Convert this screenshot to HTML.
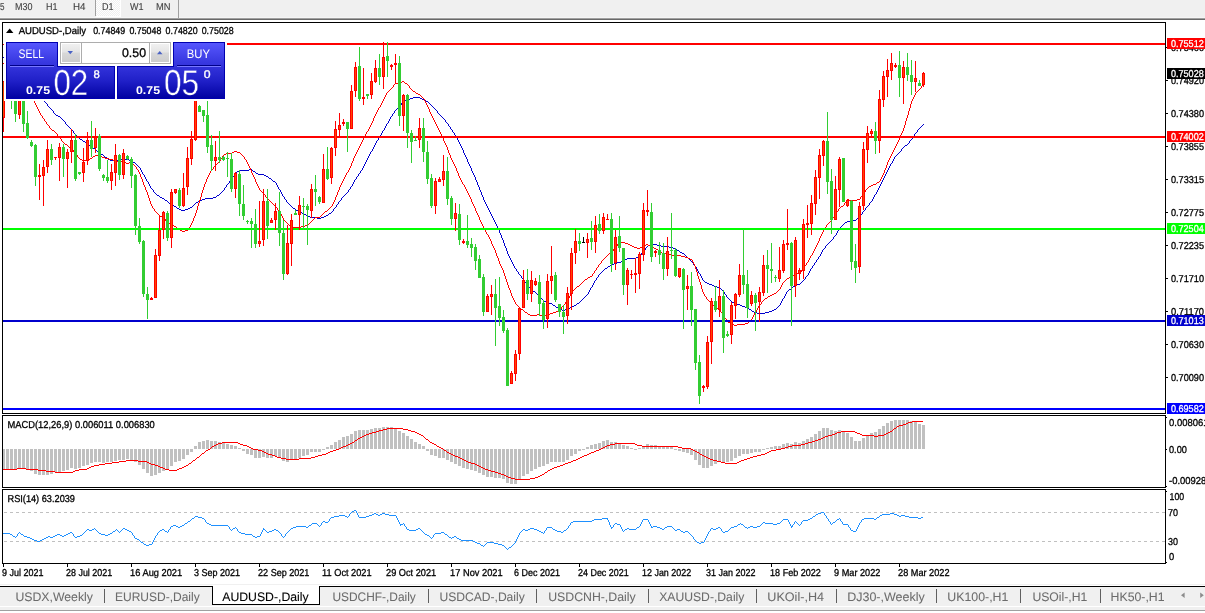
<!DOCTYPE html>
<html lang="en"><head><meta charset="utf-8"><title>AUDUSD-,Daily</title>
<style>
html,body{margin:0;padding:0;background:#fff;}
body{width:1205px;height:613px;overflow:hidden;position:relative;}
svg{position:absolute;left:0;top:0;display:block;font-family:"Liberation Sans",sans-serif;text-rendering:geometricPrecision;}
</style></head><body>
<svg width="1205" height="613" viewBox="0 0 1205 613">
<rect x="0" y="0" width="1205" height="613" fill="#fff"/>
<defs><pattern id="chk" x="0" y="0" width="2" height="2" patternUnits="userSpaceOnUse"><rect x="0" y="0" width="2" height="2" fill="#f0f0f0"/><rect x="0" y="0" width="1" height="1" fill="#fff"/><rect x="1" y="1" width="1" height="1" fill="#fff"/></pattern></defs>
<g shape-rendering="crispEdges">
<rect x="0" y="0" width="1205" height="17" fill="#f0f0f0"/>
<rect x="0" y="17" width="1205" height="1" fill="#f5f5f5"/>
<rect x="0" y="18" width="1205" height="1" fill="#a0a0a0"/>
<rect x="0" y="19" width="1205" height="1" fill="#696969"/>
<rect x="96" y="0" width="24" height="16" fill="url(#chk)"/>
<rect x="120" y="0" width="1" height="17" fill="#ffffff"/>
<rect x="96" y="16" width="25" height="1" fill="#ffffff"/>
<rect x="95" y="0" width="1" height="16" fill="#a0a0a0"/>
<rect x="178" y="0" width="1" height="18" fill="#a0a0a0"/>
</g>
<text x="0" y="10" font-size="10" fill="#404040" textLength="4.5" lengthAdjust="spacingAndGlyphs" stroke="#404040" stroke-width="0.1">5</text>
<text x="15" y="10" font-size="10" fill="#404040" textLength="17.5" lengthAdjust="spacingAndGlyphs" stroke="#404040" stroke-width="0.1">M30</text>
<text x="46" y="10" font-size="10" fill="#404040" textLength="11.5" lengthAdjust="spacingAndGlyphs" stroke="#404040" stroke-width="0.1">H1</text>
<text x="73" y="10" font-size="10" fill="#404040" textLength="12.5" lengthAdjust="spacingAndGlyphs" stroke="#404040" stroke-width="0.1">H4</text>
<text x="102" y="10" font-size="10" fill="#404040" textLength="11.5" lengthAdjust="spacingAndGlyphs" stroke="#404040" stroke-width="0.1">D1</text>
<text x="130" y="10" font-size="10" fill="#404040" textLength="13.5" lengthAdjust="spacingAndGlyphs" stroke="#404040" stroke-width="0.1">W1</text>
<text x="156" y="10" font-size="10" fill="#404040" textLength="14.5" lengthAdjust="spacingAndGlyphs" stroke="#404040" stroke-width="0.1">MN</text>
<g shape-rendering="crispEdges" fill="none" stroke="#000" stroke-width="1">
<rect x="2.5" y="22.5" width="1163" height="391"/>
<rect x="2.5" y="415.5" width="1163" height="72"/>
<rect x="2.5" y="489.5" width="1163" height="74"/>
</g>
<clipPath id="cm"><rect x="3" y="23" width="1162" height="390"/></clipPath>
<path clip-path="url(#cm)" d="M3 57.5h4M7 58.5h1M8 59.5h1M9 60.5h1M10 61.5h1M11 62.5h1M12 63.5h1M13 64.5h2M15 65.5h1M16 66.5h1M17 67.5h1M18 68.5h1M19 69.5h1M20 70.5h1M21 71.5h1M22 72.5h1M22 73.5h1M23 74.5h1M24 75.5h1M25 76.5h1M25 77.5h1M26 78.5h1M27 79.5h1M28 80.5h1M29 81.5h1M29 82.5h1M30 83.5h1M31 84.5h1M32 85.5h1M32 86.5h1M33 87.5h1M34 88.5h1M35 89.5h1M35 90.5h1M36 91.5h1M37 92.5h1M38 93.5h1M39 94.5h1M39 95.5h1M40 96.5h1M41 97.5h1M413 97.5h7M42 98.5h1M410 98.5h3M420 98.5h2M42 99.5h1M408 99.5h2M422 99.5h2M43 100.5h1M405 100.5h3M424 100.5h2M44 101.5h1M403 101.5h2M426 101.5h2M45 102.5h1M402 102.5h1M428 102.5h1M46 103.5h1M401 103.5h1M429 103.5h1M47 104.5h1M401 104.5h1M430 104.5h1M47 105.5h1M400 105.5h1M431 105.5h1M48 106.5h1M399 106.5h1M432 106.5h1M49 107.5h1M398 107.5h1M433 107.5h1M50 108.5h1M397 108.5h1M434 108.5h1M51 109.5h1M396 109.5h1M435 109.5h1M52 110.5h1M395 110.5h1M436 110.5h1M53 111.5h1M394 111.5h1M437 111.5h1M53 112.5h1M394 112.5h1M437 112.5h1M54 113.5h1M393 113.5h1M438 113.5h1M55 114.5h1M392 114.5h1M439 114.5h1M56 115.5h2M392 115.5h1M440 115.5h1M58 116.5h2M391 116.5h1M441 116.5h1M60 117.5h1M390 117.5h1M442 117.5h1M61 118.5h1M390 118.5h1M443 118.5h1M62 119.5h1M389 119.5h1M444 119.5h1M63 120.5h1M389 120.5h1M445 120.5h1M64 121.5h1M388 121.5h1M445 121.5h1M65 122.5h1M388 122.5h1M446 122.5h1M65 123.5h1M387 123.5h1M447 123.5h1M66 124.5h1M386 124.5h1M448 124.5h1M923 124.5h1M67 125.5h1M386 125.5h1M448 125.5h1M922 125.5h1M68 126.5h1M385 126.5h1M449 126.5h1M921 126.5h1M69 127.5h1M385 127.5h1M450 127.5h1M920 127.5h1M70 128.5h1M384 128.5h1M450 128.5h1M919 128.5h1M71 129.5h1M384 129.5h1M451 129.5h1M918 129.5h1M72 130.5h1M383 130.5h1M452 130.5h1M917 130.5h1M73 131.5h1M382 131.5h1M452 131.5h1M917 131.5h1M73 132.5h1M382 132.5h1M453 132.5h1M916 132.5h1M74 133.5h1M381 133.5h1M454 133.5h1M915 133.5h1M75 134.5h1M381 134.5h1M454 134.5h1M914 134.5h1M76 135.5h1M380 135.5h1M455 135.5h1M914 135.5h1M77 136.5h1M380 136.5h1M456 136.5h1M913 136.5h1M78 137.5h1M379 137.5h1M456 137.5h1M912 137.5h1M79 138.5h1M378 138.5h1M457 138.5h1M912 138.5h1M80 139.5h2M378 139.5h1M457 139.5h1M911 139.5h1M82 140.5h1M377 140.5h1M458 140.5h1M910 140.5h1M83 141.5h2M376 141.5h1M458 141.5h1M909 141.5h1M85 142.5h1M376 142.5h1M459 142.5h1M909 142.5h1M86 143.5h1M375 143.5h1M459 143.5h1M908 143.5h1M87 144.5h2M375 144.5h1M460 144.5h1M907 144.5h1M89 145.5h1M374 145.5h1M460 145.5h1M905 145.5h2M90 146.5h1M374 146.5h1M461 146.5h1M904 146.5h1M91 147.5h2M373 147.5h1M461 147.5h1M903 147.5h1M93 148.5h2M373 148.5h1M462 148.5h1M902 148.5h1M95 149.5h1M372 149.5h1M462 149.5h1M901 149.5h1M96 150.5h1M372 150.5h1M463 150.5h1M901 150.5h1M97 151.5h2M371 151.5h1M463 151.5h1M900 151.5h1M99 152.5h1M370 152.5h1M463 152.5h1M899 152.5h1M100 153.5h1M370 153.5h1M464 153.5h1M898 153.5h1M101 154.5h2M369 154.5h1M464 154.5h1M897 154.5h1M103 155.5h1M369 155.5h1M465 155.5h1M896 155.5h1M104 156.5h1M368 156.5h1M465 156.5h1M895 156.5h1M105 157.5h2M368 157.5h1M466 157.5h1M894 157.5h1M107 158.5h1M367 158.5h1M466 158.5h1M894 158.5h1M108 159.5h2M121 159.5h8M367 159.5h1M467 159.5h1M893 159.5h1M110 160.5h11M129 160.5h3M366 160.5h1M467 160.5h1M893 160.5h1M132 161.5h1M366 161.5h1M467 161.5h1M892 161.5h1M133 162.5h2M365 162.5h1M468 162.5h1M892 162.5h1M135 163.5h1M365 163.5h1M468 163.5h1M891 163.5h1M136 164.5h1M364 164.5h1M469 164.5h1M890 164.5h1M137 165.5h1M364 165.5h1M469 165.5h1M890 165.5h1M138 166.5h1M363 166.5h1M470 166.5h1M889 166.5h1M139 167.5h1M363 167.5h1M470 167.5h1M889 167.5h1M140 168.5h1M362 168.5h1M471 168.5h1M888 168.5h1M140 169.5h1M249 169.5h3M362 169.5h1M471 169.5h1M888 169.5h1M141 170.5h1M239 170.5h10M252 170.5h1M361 170.5h1M471 170.5h1M887 170.5h1M141 171.5h1M237 171.5h2M253 171.5h2M360 171.5h1M472 171.5h1M887 171.5h1M142 172.5h1M236 172.5h1M255 172.5h1M360 172.5h1M472 172.5h1M886 172.5h1M142 173.5h1M235 173.5h1M256 173.5h2M359 173.5h1M473 173.5h1M886 173.5h1M143 174.5h1M234 174.5h1M258 174.5h6M358 174.5h1M473 174.5h1M885 174.5h1M144 175.5h1M234 175.5h1M264 175.5h2M358 175.5h1M474 175.5h1M885 175.5h1M144 176.5h1M233 176.5h1M266 176.5h2M357 176.5h1M474 176.5h1M884 176.5h1M145 177.5h1M232 177.5h1M268 177.5h1M356 177.5h1M475 177.5h1M884 177.5h1M145 178.5h1M232 178.5h1M269 178.5h2M356 178.5h1M475 178.5h1M883 178.5h1M146 179.5h1M231 179.5h1M271 179.5h1M355 179.5h1M475 179.5h1M883 179.5h1M146 180.5h1M230 180.5h1M272 180.5h1M354 180.5h1M476 180.5h1M882 180.5h1M147 181.5h1M229 181.5h1M273 181.5h2M354 181.5h1M476 181.5h1M882 181.5h1M148 182.5h1M229 182.5h1M275 182.5h1M353 182.5h1M477 182.5h1M881 182.5h1M148 183.5h1M228 183.5h1M276 183.5h1M353 183.5h1M477 183.5h1M881 183.5h1M149 184.5h1M227 184.5h1M276 184.5h1M352 184.5h1M477 184.5h1M880 184.5h1M149 185.5h1M226 185.5h1M277 185.5h1M352 185.5h1M478 185.5h1M880 185.5h1M150 186.5h1M226 186.5h1M277 186.5h1M351 186.5h1M478 186.5h1M879 186.5h1M150 187.5h1M225 187.5h1M278 187.5h1M350 187.5h1M479 187.5h1M879 187.5h1M151 188.5h1M224 188.5h1M278 188.5h1M350 188.5h1M479 188.5h1M878 188.5h1M152 189.5h1M224 189.5h1M279 189.5h1M349 189.5h1M479 189.5h1M878 189.5h1M153 190.5h1M223 190.5h1M280 190.5h1M348 190.5h1M480 190.5h1M877 190.5h1M153 191.5h1M222 191.5h1M280 191.5h1M348 191.5h1M480 191.5h1M877 191.5h1M154 192.5h1M221 192.5h1M281 192.5h1M347 192.5h1M481 192.5h1M876 192.5h1M155 193.5h1M220 193.5h1M281 193.5h1M346 193.5h1M481 193.5h1M876 193.5h1M156 194.5h1M219 194.5h1M282 194.5h1M345 194.5h1M481 194.5h1M875 194.5h1M157 195.5h2M217 195.5h2M282 195.5h1M344 195.5h1M482 195.5h1M874 195.5h1M159 196.5h1M216 196.5h1M283 196.5h1M343 196.5h1M482 196.5h1M874 196.5h1M160 197.5h2M213 197.5h3M284 197.5h1M342 197.5h1M483 197.5h1M873 197.5h1M162 198.5h2M205 198.5h8M284 198.5h1M341 198.5h1M483 198.5h1M873 198.5h1M164 199.5h1M202 199.5h3M285 199.5h1M341 199.5h1M483 199.5h1M872 199.5h1M165 200.5h2M200 200.5h2M286 200.5h1M340 200.5h1M484 200.5h1M872 200.5h1M167 201.5h1M198 201.5h2M286 201.5h1M339 201.5h1M484 201.5h1M871 201.5h1M168 202.5h1M196 202.5h2M287 202.5h1M338 202.5h1M485 202.5h1M870 202.5h1M169 203.5h2M195 203.5h1M288 203.5h1M338 203.5h1M485 203.5h1M869 203.5h1M171 204.5h1M194 204.5h1M289 204.5h1M337 204.5h1M486 204.5h1M869 204.5h1M172 205.5h2M193 205.5h1M290 205.5h1M336 205.5h1M486 205.5h1M868 205.5h1M174 206.5h2M192 206.5h1M291 206.5h1M336 206.5h1M487 206.5h1M867 206.5h1M176 207.5h1M190 207.5h2M292 207.5h1M335 207.5h1M487 207.5h1M866 207.5h1M177 208.5h2M188 208.5h2M293 208.5h2M334 208.5h1M488 208.5h1M865 208.5h1M179 209.5h2M185 209.5h3M295 209.5h1M333 209.5h1M488 209.5h1M865 209.5h1M181 210.5h4M296 210.5h2M333 210.5h1M489 210.5h1M864 210.5h1M298 211.5h2M332 211.5h1M489 211.5h1M863 211.5h1M300 212.5h2M331 212.5h1M490 212.5h1M862 212.5h1M302 213.5h2M329 213.5h2M490 213.5h1M862 213.5h1M304 214.5h2M328 214.5h1M491 214.5h1M861 214.5h1M306 215.5h2M326 215.5h2M491 215.5h1M860 215.5h1M308 216.5h2M324 216.5h2M492 216.5h1M860 216.5h1M310 217.5h7M321 217.5h3M492 217.5h1M859 217.5h1M317 218.5h4M493 218.5h1M857 218.5h2M493 219.5h1M856 219.5h1M494 220.5h1M853 220.5h3M494 221.5h1M847 221.5h6M495 222.5h1M845 222.5h2M495 223.5h1M844 223.5h1M496 224.5h1M843 224.5h1M496 225.5h1M842 225.5h1M497 226.5h1M841 226.5h1M497 227.5h1M840 227.5h1M498 228.5h1M839 228.5h1M498 229.5h1M838 229.5h1M499 230.5h1M838 230.5h1M499 231.5h1M837 231.5h1M499 232.5h1M837 232.5h1M500 233.5h1M836 233.5h1M500 234.5h1M836 234.5h1M501 235.5h1M835 235.5h1M501 236.5h1M834 236.5h1M501 237.5h1M833 237.5h1M502 238.5h1M833 238.5h1M502 239.5h1M832 239.5h1M503 240.5h1M831 240.5h1M503 241.5h1M830 241.5h1M503 242.5h1M829 242.5h1M504 243.5h1M828 243.5h1M504 244.5h1M650 244.5h7M827 244.5h1M504 245.5h1M648 245.5h2M657 245.5h4M826 245.5h1M505 246.5h1M647 246.5h1M661 246.5h8M825 246.5h1M505 247.5h1M646 247.5h1M669 247.5h4M825 247.5h1M506 248.5h1M645 248.5h1M673 248.5h3M824 248.5h1M506 249.5h1M645 249.5h1M676 249.5h1M823 249.5h1M506 250.5h1M644 250.5h1M677 250.5h2M822 250.5h1M507 251.5h1M643 251.5h1M679 251.5h1M822 251.5h1M507 252.5h1M642 252.5h1M680 252.5h2M821 252.5h1M507 253.5h1M641 253.5h1M682 253.5h2M821 253.5h1M508 254.5h1M641 254.5h1M684 254.5h1M820 254.5h1M508 255.5h1M640 255.5h1M685 255.5h1M820 255.5h1M509 256.5h1M638 256.5h2M686 256.5h1M819 256.5h1M509 257.5h1M636 257.5h2M687 257.5h1M818 257.5h1M510 258.5h1M627 258.5h9M688 258.5h1M818 258.5h1M510 259.5h1M625 259.5h2M689 259.5h1M817 259.5h1M511 260.5h1M624 260.5h1M690 260.5h1M816 260.5h1M511 261.5h1M621 261.5h3M691 261.5h1M816 261.5h1M512 262.5h1M617 262.5h4M692 262.5h1M815 262.5h1M512 263.5h1M614 263.5h3M693 263.5h1M814 263.5h1M513 264.5h1M612 264.5h2M693 264.5h1M814 264.5h1M513 265.5h1M610 265.5h2M694 265.5h1M813 265.5h1M514 266.5h1M608 266.5h2M695 266.5h1M812 266.5h1M514 267.5h1M607 267.5h1M696 267.5h1M812 267.5h1M515 268.5h1M605 268.5h2M696 268.5h1M811 268.5h1M516 269.5h1M604 269.5h1M697 269.5h1M810 269.5h1M516 270.5h1M603 270.5h1M697 270.5h1M810 270.5h1M517 271.5h1M602 271.5h1M698 271.5h1M809 271.5h1M518 272.5h1M601 272.5h1M698 272.5h1M809 272.5h1M518 273.5h1M600 273.5h1M699 273.5h1M808 273.5h1M519 274.5h1M599 274.5h1M700 274.5h1M808 274.5h1M520 275.5h1M598 275.5h1M700 275.5h1M807 275.5h1M521 276.5h1M598 276.5h1M701 276.5h1M806 276.5h1M521 277.5h1M597 277.5h1M701 277.5h1M805 277.5h1M522 278.5h1M596 278.5h1M702 278.5h1M805 278.5h1M523 279.5h1M596 279.5h1M702 279.5h1M804 279.5h1M524 280.5h1M595 280.5h1M703 280.5h1M803 280.5h1M524 281.5h1M594 281.5h1M704 281.5h1M802 281.5h1M525 282.5h1M594 282.5h1M705 282.5h2M801 282.5h1M526 283.5h1M593 283.5h1M707 283.5h2M800 283.5h1M526 284.5h1M593 284.5h1M709 284.5h3M797 284.5h3M527 285.5h1M592 285.5h1M712 285.5h2M795 285.5h2M528 286.5h1M592 286.5h1M714 286.5h3M793 286.5h2M529 287.5h1M591 287.5h1M717 287.5h3M792 287.5h1M530 288.5h1M590 288.5h1M720 288.5h1M791 288.5h1M531 289.5h1M590 289.5h1M721 289.5h1M789 289.5h2M532 290.5h1M589 290.5h1M722 290.5h1M788 290.5h1M533 291.5h2M589 291.5h1M723 291.5h1M787 291.5h1M535 292.5h1M588 292.5h1M724 292.5h1M786 292.5h1M536 293.5h1M588 293.5h1M724 293.5h1M786 293.5h1M537 294.5h1M587 294.5h1M725 294.5h1M785 294.5h1M538 295.5h1M586 295.5h1M726 295.5h1M785 295.5h1M539 296.5h1M585 296.5h1M726 296.5h1M784 296.5h1M540 297.5h1M584 297.5h1M727 297.5h1M784 297.5h1M541 298.5h1M583 298.5h1M728 298.5h1M783 298.5h1M542 299.5h1M582 299.5h1M729 299.5h1M782 299.5h1M543 300.5h1M581 300.5h1M730 300.5h1M782 300.5h1M544 301.5h2M580 301.5h1M731 301.5h1M781 301.5h1M546 302.5h3M579 302.5h1M732 302.5h2M781 302.5h1M549 303.5h3M577 303.5h2M734 303.5h3M780 303.5h1M552 304.5h1M576 304.5h1M737 304.5h3M780 304.5h1M553 305.5h2M574 305.5h2M740 305.5h2M779 305.5h1M555 306.5h1M572 306.5h2M742 306.5h3M778 306.5h1M556 307.5h2M570 307.5h2M745 307.5h3M777 307.5h1M558 308.5h2M568 308.5h2M748 308.5h1M776 308.5h1M560 309.5h2M565 309.5h3M749 309.5h2M774 309.5h2M562 310.5h3M751 310.5h1M772 310.5h2M752 311.5h2M769 311.5h3M754 312.5h3M765 312.5h4M757 313.5h8" fill="none" stroke="#0000cd" stroke-width="1" shape-rendering="crispEdges"/>
<path clip-path="url(#cm)" d="M3 63.5h4M7 64.5h1M8 65.5h1M8 66.5h1M9 67.5h1M10 68.5h1M11 69.5h1M12 70.5h1M13 71.5h1M13 72.5h1M14 73.5h1M15 74.5h1M16 75.5h1M17 76.5h1M18 77.5h1M18 78.5h1M19 79.5h1M20 80.5h1M21 81.5h1M402 81.5h2M21 82.5h1M400 82.5h2M404 82.5h1M22 83.5h1M395 83.5h5M405 83.5h2M23 84.5h1M394 84.5h1M407 84.5h1M923 84.5h1M23 85.5h1M393 85.5h1M408 85.5h1M922 85.5h1M24 86.5h1M393 86.5h1M409 86.5h1M921 86.5h1M25 87.5h1M392 87.5h1M409 87.5h1M921 87.5h1M25 88.5h1M391 88.5h1M410 88.5h1M920 88.5h1M26 89.5h1M390 89.5h1M411 89.5h1M919 89.5h1M27 90.5h1M389 90.5h1M412 90.5h1M918 90.5h1M27 91.5h1M388 91.5h1M413 91.5h2M917 91.5h1M28 92.5h1M387 92.5h1M415 92.5h1M916 92.5h1M29 93.5h1M386 93.5h1M416 93.5h2M915 93.5h1M29 94.5h1M386 94.5h1M418 94.5h2M915 94.5h1M30 95.5h1M385 95.5h1M420 95.5h1M914 95.5h1M31 96.5h1M385 96.5h1M421 96.5h1M914 96.5h1M31 97.5h1M384 97.5h1M422 97.5h1M913 97.5h1M32 98.5h1M384 98.5h1M423 98.5h1M913 98.5h1M33 99.5h1M383 99.5h1M424 99.5h1M912 99.5h1M33 100.5h1M383 100.5h1M424 100.5h1M912 100.5h1M34 101.5h1M382 101.5h1M425 101.5h1M911 101.5h1M34 102.5h1M382 102.5h1M425 102.5h1M911 102.5h1M35 103.5h1M381 103.5h1M426 103.5h1M911 103.5h1M35 104.5h1M381 104.5h1M426 104.5h1M910 104.5h1M36 105.5h1M380 105.5h1M427 105.5h1M910 105.5h1M36 106.5h1M380 106.5h1M427 106.5h1M910 106.5h1M37 107.5h1M379 107.5h1M428 107.5h1M910 107.5h1M37 108.5h1M378 108.5h1M428 108.5h1M909 108.5h1M38 109.5h1M378 109.5h1M429 109.5h1M909 109.5h1M38 110.5h1M377 110.5h1M429 110.5h1M909 110.5h1M39 111.5h1M377 111.5h1M429 111.5h1M908 111.5h1M39 112.5h1M376 112.5h1M430 112.5h1M908 112.5h1M40 113.5h1M376 113.5h1M430 113.5h1M908 113.5h1M40 114.5h1M375 114.5h1M431 114.5h1M908 114.5h1M41 115.5h1M375 115.5h1M431 115.5h1M907 115.5h1M42 116.5h1M374 116.5h1M432 116.5h1M907 116.5h1M42 117.5h1M374 117.5h1M432 117.5h1M907 117.5h1M43 118.5h1M373 118.5h1M433 118.5h1M906 118.5h1M44 119.5h1M373 119.5h1M433 119.5h1M906 119.5h1M44 120.5h1M373 120.5h1M434 120.5h1M906 120.5h1M45 121.5h1M372 121.5h1M434 121.5h1M905 121.5h1M46 122.5h1M372 122.5h1M435 122.5h1M905 122.5h1M46 123.5h1M371 123.5h1M435 123.5h1M905 123.5h1M47 124.5h1M371 124.5h1M436 124.5h1M905 124.5h1M48 125.5h1M370 125.5h1M436 125.5h1M904 125.5h1M49 126.5h1M370 126.5h1M437 126.5h1M904 126.5h1M49 127.5h1M369 127.5h1M437 127.5h1M904 127.5h1M50 128.5h1M369 128.5h1M438 128.5h1M903 128.5h1M51 129.5h1M368 129.5h1M438 129.5h1M903 129.5h1M52 130.5h2M368 130.5h1M439 130.5h1M903 130.5h1M54 131.5h1M367 131.5h1M439 131.5h1M902 131.5h1M55 132.5h1M366 132.5h1M440 132.5h1M902 132.5h1M56 133.5h1M366 133.5h1M440 133.5h1M901 133.5h1M57 134.5h1M365 134.5h1M441 134.5h1M901 134.5h1M57 135.5h1M365 135.5h1M441 135.5h1M900 135.5h1M58 136.5h1M364 136.5h1M442 136.5h1M900 136.5h1M59 137.5h1M364 137.5h1M442 137.5h1M899 137.5h1M60 138.5h1M363 138.5h1M443 138.5h1M899 138.5h1M61 139.5h1M363 139.5h1M443 139.5h1M899 139.5h1M61 140.5h1M362 140.5h1M443 140.5h1M898 140.5h1M62 141.5h1M362 141.5h1M444 141.5h1M898 141.5h1M63 142.5h1M361 142.5h1M444 142.5h1M897 142.5h1M64 143.5h1M361 143.5h1M445 143.5h1M897 143.5h1M65 144.5h2M360 144.5h1M445 144.5h1M896 144.5h1M67 145.5h1M360 145.5h1M446 145.5h1M896 145.5h1M68 146.5h1M359 146.5h1M446 146.5h1M895 146.5h1M69 147.5h2M359 147.5h1M447 147.5h1M895 147.5h1M71 148.5h1M358 148.5h1M447 148.5h1M894 148.5h1M72 149.5h1M358 149.5h1M447 149.5h1M894 149.5h1M73 150.5h1M357 150.5h1M448 150.5h1M893 150.5h1M73 151.5h1M234 151.5h3M357 151.5h1M448 151.5h1M893 151.5h1M74 152.5h1M232 152.5h2M237 152.5h3M356 152.5h1M448 152.5h1M892 152.5h1M75 153.5h1M226 153.5h6M240 153.5h1M356 153.5h1M449 153.5h1M892 153.5h1M76 154.5h1M224 154.5h2M241 154.5h1M355 154.5h1M449 154.5h1M891 154.5h1M77 155.5h1M95 155.5h5M223 155.5h1M242 155.5h1M355 155.5h1M450 155.5h1M891 155.5h1M77 156.5h1M93 156.5h2M100 156.5h2M222 156.5h1M243 156.5h1M354 156.5h1M450 156.5h1M890 156.5h1M78 157.5h1M92 157.5h1M102 157.5h3M222 157.5h1M244 157.5h1M354 157.5h1M450 157.5h1M890 157.5h1M79 158.5h1M90 158.5h2M105 158.5h4M221 158.5h1M244 158.5h1M353 158.5h1M451 158.5h1M889 158.5h1M80 159.5h2M88 159.5h2M109 159.5h4M220 159.5h1M245 159.5h1M353 159.5h1M451 159.5h1M889 159.5h1M82 160.5h6M113 160.5h4M220 160.5h1M246 160.5h1M353 160.5h1M452 160.5h1M888 160.5h1M117 161.5h7M219 161.5h1M246 161.5h1M352 161.5h1M452 161.5h1M888 161.5h1M124 162.5h2M129 162.5h3M218 162.5h1M247 162.5h1M352 162.5h1M453 162.5h1M887 162.5h1M126 163.5h3M132 163.5h1M217 163.5h1M247 163.5h1M351 163.5h1M453 163.5h1M887 163.5h1M133 164.5h1M216 164.5h1M248 164.5h1M351 164.5h1M454 164.5h1M887 164.5h1M134 165.5h1M215 165.5h1M248 165.5h1M351 165.5h1M454 165.5h1M886 165.5h1M135 166.5h1M214 166.5h1M249 166.5h1M350 166.5h1M455 166.5h1M886 166.5h1M136 167.5h1M213 167.5h1M249 167.5h1M350 167.5h1M455 167.5h1M886 167.5h1M136 168.5h1M213 168.5h1M250 168.5h1M349 168.5h1M456 168.5h1M885 168.5h1M137 169.5h1M212 169.5h1M250 169.5h1M349 169.5h1M456 169.5h1M885 169.5h1M138 170.5h1M211 170.5h1M251 170.5h1M348 170.5h1M456 170.5h1M884 170.5h1M138 171.5h1M210 171.5h1M251 171.5h1M348 171.5h1M457 171.5h1M884 171.5h1M139 172.5h1M210 172.5h1M251 172.5h1M347 172.5h1M457 172.5h1M884 172.5h1M139 173.5h1M209 173.5h1M252 173.5h1M346 173.5h1M458 173.5h1M883 173.5h1M140 174.5h1M209 174.5h1M252 174.5h1M346 174.5h1M458 174.5h1M883 174.5h1M140 175.5h1M208 175.5h1M253 175.5h1M345 175.5h1M458 175.5h1M882 175.5h1M140 176.5h1M208 176.5h1M253 176.5h1M345 176.5h1M459 176.5h1M882 176.5h1M141 177.5h1M207 177.5h1M254 177.5h1M344 177.5h1M459 177.5h1M881 177.5h1M141 178.5h1M207 178.5h1M254 178.5h1M344 178.5h1M460 178.5h1M881 178.5h1M142 179.5h1M206 179.5h1M255 179.5h1M343 179.5h1M460 179.5h1M880 179.5h1M142 180.5h1M206 180.5h1M255 180.5h1M343 180.5h1M461 180.5h1M880 180.5h1M142 181.5h1M206 181.5h1M255 181.5h1M342 181.5h1M461 181.5h1M879 181.5h1M143 182.5h1M205 182.5h1M256 182.5h1M342 182.5h1M462 182.5h1M877 182.5h2M143 183.5h1M205 183.5h1M256 183.5h1M341 183.5h1M462 183.5h1M876 183.5h1M143 184.5h1M204 184.5h1M257 184.5h1M341 184.5h1M463 184.5h1M873 184.5h3M144 185.5h1M204 185.5h1M257 185.5h1M340 185.5h1M464 185.5h1M871 185.5h2M144 186.5h1M204 186.5h1M258 186.5h1M340 186.5h1M464 186.5h1M869 186.5h2M145 187.5h1M203 187.5h1M258 187.5h1M339 187.5h1M465 187.5h1M868 187.5h1M145 188.5h1M203 188.5h1M259 188.5h1M339 188.5h1M465 188.5h1M867 188.5h1M145 189.5h1M203 189.5h1M259 189.5h1M339 189.5h1M466 189.5h1M866 189.5h1M146 190.5h1M202 190.5h1M260 190.5h1M338 190.5h1M466 190.5h1M865 190.5h1M146 191.5h1M202 191.5h1M261 191.5h1M338 191.5h1M467 191.5h1M865 191.5h1M147 192.5h1M202 192.5h1M262 192.5h1M337 192.5h1M467 192.5h1M864 192.5h1M147 193.5h1M201 193.5h1M263 193.5h1M337 193.5h1M468 193.5h1M863 193.5h1M147 194.5h1M201 194.5h1M264 194.5h1M337 194.5h1M468 194.5h1M862 194.5h1M148 195.5h1M201 195.5h1M265 195.5h1M336 195.5h1M469 195.5h1M862 195.5h1M148 196.5h1M201 196.5h1M265 196.5h1M336 196.5h1M469 196.5h1M861 196.5h1M148 197.5h1M200 197.5h1M266 197.5h1M335 197.5h1M470 197.5h1M860 197.5h1M149 198.5h1M200 198.5h1M267 198.5h1M335 198.5h1M470 198.5h1M860 198.5h1M149 199.5h1M200 199.5h1M268 199.5h1M335 199.5h1M471 199.5h1M847 199.5h2M857 199.5h3M149 200.5h1M199 200.5h1M269 200.5h1M334 200.5h1M471 200.5h1M846 200.5h1M849 200.5h8M150 201.5h1M199 201.5h1M270 201.5h1M334 201.5h1M471 201.5h1M846 201.5h1M150 202.5h1M199 202.5h1M271 202.5h1M333 202.5h1M472 202.5h1M845 202.5h1M150 203.5h1M198 203.5h1M272 203.5h1M333 203.5h1M472 203.5h1M844 203.5h1M151 204.5h1M198 204.5h1M273 204.5h1M332 204.5h1M473 204.5h1M844 204.5h1M151 205.5h1M198 205.5h1M274 205.5h1M332 205.5h1M473 205.5h1M843 205.5h1M152 206.5h1M197 206.5h1M275 206.5h1M331 206.5h1M474 206.5h1M841 206.5h2M152 207.5h1M197 207.5h1M276 207.5h1M330 207.5h1M474 207.5h1M840 207.5h1M153 208.5h1M197 208.5h1M277 208.5h1M329 208.5h1M475 208.5h1M839 208.5h1M154 209.5h1M197 209.5h1M277 209.5h1M328 209.5h1M475 209.5h1M838 209.5h1M154 210.5h1M196 210.5h1M278 210.5h1M327 210.5h1M475 210.5h1M838 210.5h1M155 211.5h1M196 211.5h1M279 211.5h1M325 211.5h2M476 211.5h1M837 211.5h1M156 212.5h1M196 212.5h1M280 212.5h1M324 212.5h1M476 212.5h1M836 212.5h1M157 213.5h1M195 213.5h1M280 213.5h1M323 213.5h1M477 213.5h1M836 213.5h1M158 214.5h1M195 214.5h1M281 214.5h1M322 214.5h1M477 214.5h1M835 214.5h1M159 215.5h1M195 215.5h1M281 215.5h1M321 215.5h1M478 215.5h1M834 215.5h1M160 216.5h2M194 216.5h1M282 216.5h1M320 216.5h1M478 216.5h1M834 216.5h1M162 217.5h2M194 217.5h1M282 217.5h1M315 217.5h5M479 217.5h1M833 217.5h1M164 218.5h1M193 218.5h1M283 218.5h1M314 218.5h1M479 218.5h1M832 218.5h1M165 219.5h1M193 219.5h1M283 219.5h1M313 219.5h1M479 219.5h1M832 219.5h1M165 220.5h1M193 220.5h1M284 220.5h1M312 220.5h1M480 220.5h1M831 220.5h1M166 221.5h1M192 221.5h1M285 221.5h1M311 221.5h1M480 221.5h1M830 221.5h1M167 222.5h1M192 222.5h1M286 222.5h1M310 222.5h1M481 222.5h1M829 222.5h1M168 223.5h2M191 223.5h1M287 223.5h1M309 223.5h1M481 223.5h1M828 223.5h1M170 224.5h2M191 224.5h1M288 224.5h1M308 224.5h1M482 224.5h1M827 224.5h1M172 225.5h2M190 225.5h1M289 225.5h1M305 225.5h3M482 225.5h1M826 225.5h1M174 226.5h2M190 226.5h1M290 226.5h1M301 226.5h4M483 226.5h1M826 226.5h1M176 227.5h1M189 227.5h1M291 227.5h10M483 227.5h1M825 227.5h1M177 228.5h2M188 228.5h1M484 228.5h1M824 228.5h1M179 229.5h1M188 229.5h1M484 229.5h1M824 229.5h1M180 230.5h2M185 230.5h3M485 230.5h1M823 230.5h1M182 231.5h3M485 231.5h1M823 231.5h1M486 232.5h1M822 232.5h1M486 233.5h1M822 233.5h1M487 234.5h1M821 234.5h1M488 235.5h1M821 235.5h1M488 236.5h1M820 236.5h1M489 237.5h1M820 237.5h1M489 238.5h1M819 238.5h1M490 239.5h1M819 239.5h1M490 240.5h1M819 240.5h1M491 241.5h1M818 241.5h1M491 242.5h1M619 242.5h6M818 242.5h1M491 243.5h1M618 243.5h1M625 243.5h3M817 243.5h1M492 244.5h1M617 244.5h1M628 244.5h2M646 244.5h2M817 244.5h1M492 245.5h1M617 245.5h1M630 245.5h2M644 245.5h2M648 245.5h2M816 245.5h1M493 246.5h1M616 246.5h1M632 246.5h2M642 246.5h2M650 246.5h2M816 246.5h1M493 247.5h1M615 247.5h1M634 247.5h3M640 247.5h2M652 247.5h2M815 247.5h1M494 248.5h1M614 248.5h1M637 248.5h3M654 248.5h2M815 248.5h1M494 249.5h1M613 249.5h1M656 249.5h2M814 249.5h1M495 250.5h1M613 250.5h1M658 250.5h2M814 250.5h1M495 251.5h1M612 251.5h1M660 251.5h1M813 251.5h1M495 252.5h1M611 252.5h1M661 252.5h1M813 252.5h1M496 253.5h1M609 253.5h2M662 253.5h1M665 253.5h4M812 253.5h1M496 254.5h1M608 254.5h1M663 254.5h2M669 254.5h3M812 254.5h1M496 255.5h1M607 255.5h1M672 255.5h2M677 255.5h4M811 255.5h1M497 256.5h1M606 256.5h1M674 256.5h3M681 256.5h4M810 256.5h1M497 257.5h1M605 257.5h1M685 257.5h3M810 257.5h1M498 258.5h1M604 258.5h1M688 258.5h2M809 258.5h1M498 259.5h1M603 259.5h1M690 259.5h2M809 259.5h1M498 260.5h1M602 260.5h1M692 260.5h1M808 260.5h1M499 261.5h1M601 261.5h1M692 261.5h1M808 261.5h1M499 262.5h1M601 262.5h1M693 262.5h1M807 262.5h1M499 263.5h1M600 263.5h1M693 263.5h1M806 263.5h1M500 264.5h1M599 264.5h1M694 264.5h1M806 264.5h1M500 265.5h1M598 265.5h1M694 265.5h1M805 265.5h1M501 266.5h1M598 266.5h1M695 266.5h1M804 266.5h1M501 267.5h1M597 267.5h1M695 267.5h1M804 267.5h1M502 268.5h1M596 268.5h1M695 268.5h1M803 268.5h1M502 269.5h1M596 269.5h1M696 269.5h1M802 269.5h1M503 270.5h1M595 270.5h1M696 270.5h1M801 270.5h1M503 271.5h1M594 271.5h1M696 271.5h1M801 271.5h1M503 272.5h1M594 272.5h1M697 272.5h1M800 272.5h1M504 273.5h1M593 273.5h1M697 273.5h1M797 273.5h3M504 274.5h1M592 274.5h1M697 274.5h1M795 274.5h2M504 275.5h1M592 275.5h1M697 275.5h1M793 275.5h2M505 276.5h1M590 276.5h2M698 276.5h1M792 276.5h1M505 277.5h1M588 277.5h2M698 277.5h1M789 277.5h3M505 278.5h1M587 278.5h1M698 278.5h1M787 278.5h2M506 279.5h1M585 279.5h2M699 279.5h1M786 279.5h1M506 280.5h1M584 280.5h1M699 280.5h1M785 280.5h1M506 281.5h1M583 281.5h1M699 281.5h1M784 281.5h1M507 282.5h1M582 282.5h1M700 282.5h1M783 282.5h1M507 283.5h1M581 283.5h1M700 283.5h1M782 283.5h1M507 284.5h1M580 284.5h1M700 284.5h1M782 284.5h1M508 285.5h1M579 285.5h1M701 285.5h1M781 285.5h1M508 286.5h1M577 286.5h2M701 286.5h1M781 286.5h1M508 287.5h1M576 287.5h1M701 287.5h1M780 287.5h1M509 288.5h1M575 288.5h1M701 288.5h1M780 288.5h1M509 289.5h1M574 289.5h1M702 289.5h1M779 289.5h1M510 290.5h1M573 290.5h1M702 290.5h1M778 290.5h1M510 291.5h1M572 291.5h1M702 291.5h1M777 291.5h1M510 292.5h1M571 292.5h1M703 292.5h1M776 292.5h1M511 293.5h1M571 293.5h1M703 293.5h1M774 293.5h2M511 294.5h1M570 294.5h1M704 294.5h1M772 294.5h2M511 295.5h1M570 295.5h1M704 295.5h1M770 295.5h2M512 296.5h1M569 296.5h1M705 296.5h1M768 296.5h2M512 297.5h1M569 297.5h1M706 297.5h1M767 297.5h1M513 298.5h1M568 298.5h1M706 298.5h1M765 298.5h2M513 299.5h1M568 299.5h1M707 299.5h1M764 299.5h1M514 300.5h1M567 300.5h1M708 300.5h1M763 300.5h1M514 301.5h1M566 301.5h1M709 301.5h1M762 301.5h1M515 302.5h1M565 302.5h1M710 302.5h1M761 302.5h1M515 303.5h1M565 303.5h1M711 303.5h1M761 303.5h1M516 304.5h1M564 304.5h1M712 304.5h1M760 304.5h1M517 305.5h1M563 305.5h1M713 305.5h1M759 305.5h1M518 306.5h1M562 306.5h1M714 306.5h1M758 306.5h1M519 307.5h1M561 307.5h1M715 307.5h1M758 307.5h1M520 308.5h1M561 308.5h1M716 308.5h2M757 308.5h1M521 309.5h2M560 309.5h1M718 309.5h2M757 309.5h1M523 310.5h1M558 310.5h2M720 310.5h1M756 310.5h1M524 311.5h1M556 311.5h2M720 311.5h1M756 311.5h1M525 312.5h2M553 312.5h3M721 312.5h1M755 312.5h1M527 313.5h1M550 313.5h3M722 313.5h1M754 313.5h1M528 314.5h2M537 314.5h3M548 314.5h2M722 314.5h1M754 314.5h1M530 315.5h7M540 315.5h2M545 315.5h3M723 315.5h1M753 315.5h1M542 316.5h3M724 316.5h1M753 316.5h1M724 317.5h1M752 317.5h1M725 318.5h1M752 318.5h1M726 319.5h1M751 319.5h1M726 320.5h1M750 320.5h1M727 321.5h1M749 321.5h1M728 322.5h2M748 322.5h1M730 323.5h2M745 323.5h3M732 324.5h2M737 324.5h8M734 325.5h3" fill="none" stroke="#ff0000" stroke-width="1" shape-rendering="crispEdges"/>
<g clip-path="url(#cm)" shape-rendering="crispEdges">
<rect x="3" y="43" width="1162" height="2" fill="#ff0000"/>
<rect x="3" y="136" width="1162" height="2" fill="#ff0000"/>
<rect x="3" y="228" width="1162" height="2" fill="#00ff00"/>
<rect x="3" y="320" width="1162" height="2" fill="#0000cd"/>
<rect x="3" y="408" width="1162" height="2" fill="#0000ff"/>
<rect x="3" y="81" width="1" height="51" fill="#ff0000"/>
<rect x="2" y="81" width="3" height="37" fill="#ff0000"/>
<rect x="3" y="82" width="1" height="35" fill="#ff4500"/>
<rect x="7" y="60" width="1" height="25" fill="#32cd32"/>
<rect x="6" y="62" width="3" height="18" fill="#32cd32"/>
<rect x="11" y="70" width="1" height="39" fill="#32cd32"/>
<rect x="10" y="75" width="3" height="23" fill="#32cd32"/>
<rect x="15" y="80" width="1" height="42" fill="#32cd32"/>
<rect x="14" y="85" width="3" height="29" fill="#32cd32"/>
<rect x="19" y="80" width="1" height="39" fill="#ff0000"/>
<rect x="18" y="90" width="3" height="25" fill="#ff0000"/>
<rect x="19" y="91" width="1" height="23" fill="#ff4500"/>
<rect x="23" y="85" width="1" height="47" fill="#32cd32"/>
<rect x="22" y="95" width="3" height="29" fill="#32cd32"/>
<rect x="27" y="111" width="1" height="28" fill="#32cd32"/>
<rect x="26" y="123" width="3" height="15" fill="#32cd32"/>
<rect x="31" y="140" width="1" height="7" fill="#32cd32"/>
<rect x="30" y="142" width="3" height="4" fill="#32cd32"/>
<rect x="35" y="144" width="1" height="42" fill="#32cd32"/>
<rect x="34" y="145" width="3" height="32" fill="#32cd32"/>
<rect x="39" y="164" width="1" height="36" fill="#ff0000"/>
<rect x="38" y="175" width="3" height="2" fill="#ff0000"/>
<rect x="43" y="160" width="1" height="46" fill="#ff0000"/>
<rect x="42" y="167" width="3" height="9" fill="#ff0000"/>
<rect x="43" y="168" width="1" height="7" fill="#ff4500"/>
<rect x="47" y="140" width="1" height="33" fill="#ff0000"/>
<rect x="46" y="149" width="3" height="18" fill="#ff0000"/>
<rect x="47" y="150" width="1" height="16" fill="#ff4500"/>
<rect x="51" y="144" width="1" height="21" fill="#32cd32"/>
<rect x="50" y="149" width="3" height="11" fill="#32cd32"/>
<rect x="55" y="157" width="1" height="3" fill="#ff0000"/>
<rect x="54" y="157" width="3" height="1" fill="#ff0000"/>
<rect x="59" y="143" width="1" height="38" fill="#ff0000"/>
<rect x="58" y="147" width="3" height="11" fill="#ff0000"/>
<rect x="59" y="148" width="1" height="9" fill="#ff4500"/>
<rect x="63" y="144" width="1" height="33" fill="#32cd32"/>
<rect x="62" y="147" width="3" height="12" fill="#32cd32"/>
<rect x="67" y="149" width="1" height="39" fill="#ff0000"/>
<rect x="66" y="152" width="3" height="7" fill="#ff0000"/>
<rect x="67" y="153" width="1" height="5" fill="#ff4500"/>
<rect x="71" y="129" width="1" height="34" fill="#ff0000"/>
<rect x="70" y="140" width="3" height="12" fill="#ff0000"/>
<rect x="71" y="141" width="1" height="10" fill="#ff4500"/>
<rect x="75" y="134" width="1" height="47" fill="#32cd32"/>
<rect x="74" y="140" width="3" height="39" fill="#32cd32"/>
<rect x="79" y="172" width="1" height="3" fill="#32cd32"/>
<rect x="78" y="172" width="3" height="2" fill="#32cd32"/>
<rect x="83" y="148" width="1" height="34" fill="#ff0000"/>
<rect x="82" y="162" width="3" height="11" fill="#ff0000"/>
<rect x="83" y="163" width="1" height="9" fill="#ff4500"/>
<rect x="87" y="132" width="1" height="33" fill="#ff0000"/>
<rect x="86" y="140" width="3" height="21" fill="#ff0000"/>
<rect x="87" y="141" width="1" height="19" fill="#ff4500"/>
<rect x="91" y="121" width="1" height="36" fill="#32cd32"/>
<rect x="90" y="140" width="3" height="9" fill="#32cd32"/>
<rect x="95" y="128" width="1" height="25" fill="#ff0000"/>
<rect x="94" y="137" width="3" height="11" fill="#ff0000"/>
<rect x="95" y="138" width="1" height="9" fill="#ff4500"/>
<rect x="99" y="134" width="1" height="37" fill="#32cd32"/>
<rect x="98" y="136" width="3" height="33" fill="#32cd32"/>
<rect x="103" y="174" width="1" height="7" fill="#32cd32"/>
<rect x="102" y="175" width="3" height="3" fill="#32cd32"/>
<rect x="107" y="160" width="1" height="23" fill="#32cd32"/>
<rect x="106" y="177" width="3" height="4" fill="#32cd32"/>
<rect x="111" y="164" width="1" height="26" fill="#ff0000"/>
<rect x="110" y="172" width="3" height="9" fill="#ff0000"/>
<rect x="111" y="173" width="1" height="7" fill="#ff4500"/>
<rect x="115" y="144" width="1" height="42" fill="#ff0000"/>
<rect x="114" y="155" width="3" height="18" fill="#ff0000"/>
<rect x="115" y="156" width="1" height="16" fill="#ff4500"/>
<rect x="119" y="154" width="1" height="26" fill="#32cd32"/>
<rect x="118" y="155" width="3" height="20" fill="#32cd32"/>
<rect x="123" y="149" width="1" height="30" fill="#ff0000"/>
<rect x="122" y="153" width="3" height="22" fill="#ff0000"/>
<rect x="123" y="154" width="1" height="20" fill="#ff4500"/>
<rect x="127" y="155" width="1" height="5" fill="#32cd32"/>
<rect x="126" y="156" width="3" height="3" fill="#32cd32"/>
<rect x="131" y="157" width="1" height="31" fill="#32cd32"/>
<rect x="130" y="159" width="3" height="17" fill="#32cd32"/>
<rect x="135" y="174" width="1" height="61" fill="#32cd32"/>
<rect x="134" y="175" width="3" height="51" fill="#32cd32"/>
<rect x="139" y="218" width="1" height="26" fill="#32cd32"/>
<rect x="138" y="226" width="3" height="16" fill="#32cd32"/>
<rect x="143" y="240" width="1" height="57" fill="#32cd32"/>
<rect x="142" y="241" width="3" height="53" fill="#32cd32"/>
<rect x="147" y="287" width="1" height="32" fill="#32cd32"/>
<rect x="146" y="294" width="3" height="6" fill="#32cd32"/>
<rect x="151" y="297" width="1" height="3" fill="#ff0000"/>
<rect x="150" y="298" width="3" height="2" fill="#ff0000"/>
<rect x="155" y="249" width="1" height="49" fill="#ff0000"/>
<rect x="154" y="255" width="3" height="43" fill="#ff0000"/>
<rect x="155" y="256" width="1" height="41" fill="#ff4500"/>
<rect x="159" y="216" width="1" height="45" fill="#ff0000"/>
<rect x="158" y="230" width="3" height="26" fill="#ff0000"/>
<rect x="159" y="231" width="1" height="24" fill="#ff4500"/>
<rect x="163" y="211" width="1" height="28" fill="#ff0000"/>
<rect x="162" y="212" width="3" height="18" fill="#ff0000"/>
<rect x="163" y="213" width="1" height="16" fill="#ff4500"/>
<rect x="167" y="211" width="1" height="30" fill="#32cd32"/>
<rect x="166" y="213" width="3" height="25" fill="#32cd32"/>
<rect x="171" y="189" width="1" height="59" fill="#ff0000"/>
<rect x="170" y="192" width="3" height="46" fill="#ff0000"/>
<rect x="171" y="193" width="1" height="44" fill="#ff4500"/>
<rect x="175" y="189" width="1" height="5" fill="#ff0000"/>
<rect x="174" y="189" width="3" height="4" fill="#ff0000"/>
<rect x="175" y="190" width="1" height="2" fill="#ff4500"/>
<rect x="179" y="188" width="1" height="20" fill="#32cd32"/>
<rect x="178" y="190" width="3" height="16" fill="#32cd32"/>
<rect x="183" y="173" width="1" height="34" fill="#ff0000"/>
<rect x="182" y="188" width="3" height="18" fill="#ff0000"/>
<rect x="183" y="189" width="1" height="16" fill="#ff4500"/>
<rect x="187" y="147" width="1" height="48" fill="#ff0000"/>
<rect x="186" y="158" width="3" height="29" fill="#ff0000"/>
<rect x="187" y="159" width="1" height="27" fill="#ff4500"/>
<rect x="191" y="131" width="1" height="34" fill="#ff0000"/>
<rect x="190" y="139" width="3" height="20" fill="#ff0000"/>
<rect x="191" y="140" width="1" height="18" fill="#ff4500"/>
<rect x="195" y="92" width="1" height="49" fill="#ff0000"/>
<rect x="194" y="97" width="3" height="43" fill="#ff0000"/>
<rect x="195" y="98" width="1" height="41" fill="#ff4500"/>
<rect x="199" y="105" width="1" height="7" fill="#32cd32"/>
<rect x="198" y="106" width="3" height="6" fill="#32cd32"/>
<rect x="203" y="110" width="1" height="12" fill="#32cd32"/>
<rect x="202" y="110" width="3" height="6" fill="#32cd32"/>
<rect x="207" y="95" width="1" height="58" fill="#32cd32"/>
<rect x="206" y="115" width="3" height="32" fill="#32cd32"/>
<rect x="211" y="135" width="1" height="36" fill="#32cd32"/>
<rect x="210" y="145" width="3" height="16" fill="#32cd32"/>
<rect x="215" y="141" width="1" height="30" fill="#ff0000"/>
<rect x="214" y="157" width="3" height="4" fill="#ff0000"/>
<rect x="215" y="158" width="1" height="2" fill="#ff4500"/>
<rect x="219" y="131" width="1" height="32" fill="#32cd32"/>
<rect x="218" y="157" width="3" height="3" fill="#32cd32"/>
<rect x="223" y="156" width="1" height="5" fill="#32cd32"/>
<rect x="222" y="157" width="3" height="3" fill="#32cd32"/>
<rect x="227" y="152" width="1" height="25" fill="#32cd32"/>
<rect x="226" y="158" width="3" height="1" fill="#32cd32"/>
<rect x="231" y="153" width="1" height="39" fill="#32cd32"/>
<rect x="230" y="159" width="3" height="30" fill="#32cd32"/>
<rect x="235" y="172" width="1" height="26" fill="#ff0000"/>
<rect x="234" y="173" width="3" height="16" fill="#ff0000"/>
<rect x="235" y="174" width="1" height="14" fill="#ff4500"/>
<rect x="239" y="170" width="1" height="46" fill="#32cd32"/>
<rect x="238" y="174" width="3" height="30" fill="#32cd32"/>
<rect x="243" y="185" width="1" height="35" fill="#32cd32"/>
<rect x="242" y="204" width="3" height="12" fill="#32cd32"/>
<rect x="247" y="220" width="1" height="4" fill="#32cd32"/>
<rect x="246" y="221" width="3" height="1" fill="#32cd32"/>
<rect x="251" y="218" width="1" height="30" fill="#32cd32"/>
<rect x="250" y="221" width="3" height="3" fill="#32cd32"/>
<rect x="255" y="209" width="1" height="39" fill="#32cd32"/>
<rect x="254" y="224" width="3" height="20" fill="#32cd32"/>
<rect x="259" y="201" width="1" height="46" fill="#ff0000"/>
<rect x="258" y="241" width="3" height="3" fill="#ff0000"/>
<rect x="259" y="242" width="1" height="1" fill="#ff4500"/>
<rect x="263" y="189" width="1" height="57" fill="#ff0000"/>
<rect x="262" y="201" width="3" height="39" fill="#ff0000"/>
<rect x="263" y="202" width="1" height="37" fill="#ff4500"/>
<rect x="267" y="189" width="1" height="50" fill="#32cd32"/>
<rect x="266" y="201" width="3" height="25" fill="#32cd32"/>
<rect x="271" y="218" width="1" height="5" fill="#ff0000"/>
<rect x="270" y="220" width="3" height="3" fill="#ff0000"/>
<rect x="271" y="221" width="1" height="1" fill="#ff4500"/>
<rect x="275" y="203" width="1" height="27" fill="#ff0000"/>
<rect x="274" y="211" width="3" height="9" fill="#ff0000"/>
<rect x="275" y="212" width="1" height="7" fill="#ff4500"/>
<rect x="279" y="192" width="1" height="54" fill="#32cd32"/>
<rect x="278" y="211" width="3" height="22" fill="#32cd32"/>
<rect x="283" y="220" width="1" height="60" fill="#32cd32"/>
<rect x="282" y="233" width="3" height="41" fill="#32cd32"/>
<rect x="287" y="225" width="1" height="50" fill="#ff0000"/>
<rect x="286" y="243" width="3" height="31" fill="#ff0000"/>
<rect x="287" y="244" width="1" height="29" fill="#ff4500"/>
<rect x="291" y="214" width="1" height="52" fill="#ff0000"/>
<rect x="290" y="220" width="3" height="24" fill="#ff0000"/>
<rect x="291" y="221" width="1" height="22" fill="#ff4500"/>
<rect x="295" y="210" width="1" height="5" fill="#32cd32"/>
<rect x="294" y="213" width="3" height="2" fill="#32cd32"/>
<rect x="299" y="196" width="1" height="34" fill="#ff0000"/>
<rect x="298" y="205" width="3" height="10" fill="#ff0000"/>
<rect x="299" y="206" width="1" height="8" fill="#ff4500"/>
<rect x="303" y="198" width="1" height="32" fill="#32cd32"/>
<rect x="302" y="206" width="3" height="1" fill="#32cd32"/>
<rect x="307" y="204" width="1" height="41" fill="#32cd32"/>
<rect x="306" y="206" width="3" height="4" fill="#32cd32"/>
<rect x="311" y="184" width="1" height="34" fill="#ff0000"/>
<rect x="310" y="189" width="3" height="22" fill="#ff0000"/>
<rect x="311" y="190" width="1" height="20" fill="#ff4500"/>
<rect x="315" y="175" width="1" height="31" fill="#32cd32"/>
<rect x="314" y="189" width="3" height="3" fill="#32cd32"/>
<rect x="319" y="196" width="1" height="8" fill="#32cd32"/>
<rect x="318" y="197" width="3" height="5" fill="#32cd32"/>
<rect x="323" y="154" width="1" height="49" fill="#ff0000"/>
<rect x="322" y="169" width="3" height="34" fill="#ff0000"/>
<rect x="323" y="170" width="1" height="32" fill="#ff4500"/>
<rect x="327" y="147" width="1" height="33" fill="#32cd32"/>
<rect x="326" y="169" width="3" height="10" fill="#32cd32"/>
<rect x="331" y="147" width="1" height="37" fill="#ff0000"/>
<rect x="330" y="148" width="3" height="30" fill="#ff0000"/>
<rect x="331" y="149" width="1" height="28" fill="#ff4500"/>
<rect x="335" y="121" width="1" height="35" fill="#ff0000"/>
<rect x="334" y="129" width="3" height="19" fill="#ff0000"/>
<rect x="335" y="130" width="1" height="17" fill="#ff4500"/>
<rect x="339" y="113" width="1" height="23" fill="#ff0000"/>
<rect x="338" y="125" width="3" height="5" fill="#ff0000"/>
<rect x="339" y="126" width="1" height="3" fill="#ff4500"/>
<rect x="343" y="119" width="1" height="7" fill="#ff0000"/>
<rect x="342" y="122" width="3" height="2" fill="#ff0000"/>
<rect x="347" y="122" width="1" height="30" fill="#32cd32"/>
<rect x="346" y="122" width="3" height="7" fill="#32cd32"/>
<rect x="351" y="85" width="1" height="44" fill="#ff0000"/>
<rect x="350" y="91" width="3" height="38" fill="#ff0000"/>
<rect x="351" y="92" width="1" height="36" fill="#ff4500"/>
<rect x="355" y="62" width="1" height="35" fill="#ff0000"/>
<rect x="354" y="67" width="3" height="24" fill="#ff0000"/>
<rect x="355" y="68" width="1" height="22" fill="#ff4500"/>
<rect x="359" y="47" width="1" height="54" fill="#32cd32"/>
<rect x="358" y="66" width="3" height="33" fill="#32cd32"/>
<rect x="363" y="68" width="1" height="37" fill="#ff0000"/>
<rect x="362" y="97" width="3" height="2" fill="#ff0000"/>
<rect x="367" y="94" width="1" height="5" fill="#32cd32"/>
<rect x="366" y="94" width="3" height="2" fill="#32cd32"/>
<rect x="371" y="73" width="1" height="26" fill="#ff0000"/>
<rect x="370" y="81" width="3" height="14" fill="#ff0000"/>
<rect x="371" y="82" width="1" height="12" fill="#ff4500"/>
<rect x="375" y="60" width="1" height="23" fill="#ff0000"/>
<rect x="374" y="68" width="3" height="14" fill="#ff0000"/>
<rect x="375" y="69" width="1" height="12" fill="#ff4500"/>
<rect x="379" y="54" width="1" height="31" fill="#32cd32"/>
<rect x="378" y="68" width="3" height="9" fill="#32cd32"/>
<rect x="383" y="42" width="1" height="47" fill="#ff0000"/>
<rect x="382" y="57" width="3" height="20" fill="#ff0000"/>
<rect x="383" y="58" width="1" height="18" fill="#ff4500"/>
<rect x="387" y="42" width="1" height="35" fill="#32cd32"/>
<rect x="386" y="56" width="3" height="5" fill="#32cd32"/>
<rect x="391" y="64" width="1" height="6" fill="#ff0000"/>
<rect x="390" y="65" width="3" height="2" fill="#ff0000"/>
<rect x="395" y="54" width="1" height="30" fill="#ff0000"/>
<rect x="394" y="63" width="3" height="2" fill="#ff0000"/>
<rect x="399" y="56" width="1" height="70" fill="#32cd32"/>
<rect x="398" y="63" width="3" height="53" fill="#32cd32"/>
<rect x="403" y="94" width="1" height="37" fill="#ff0000"/>
<rect x="402" y="95" width="3" height="21" fill="#ff0000"/>
<rect x="403" y="96" width="1" height="19" fill="#ff4500"/>
<rect x="407" y="94" width="1" height="54" fill="#32cd32"/>
<rect x="406" y="95" width="3" height="38" fill="#32cd32"/>
<rect x="411" y="130" width="1" height="33" fill="#32cd32"/>
<rect x="410" y="133" width="3" height="9" fill="#32cd32"/>
<rect x="415" y="136" width="1" height="5" fill="#32cd32"/>
<rect x="414" y="140" width="3" height="1" fill="#32cd32"/>
<rect x="419" y="118" width="1" height="30" fill="#ff0000"/>
<rect x="418" y="128" width="3" height="12" fill="#ff0000"/>
<rect x="419" y="129" width="1" height="10" fill="#ff4500"/>
<rect x="423" y="118" width="1" height="44" fill="#32cd32"/>
<rect x="422" y="128" width="3" height="24" fill="#32cd32"/>
<rect x="427" y="141" width="1" height="43" fill="#32cd32"/>
<rect x="426" y="152" width="3" height="27" fill="#32cd32"/>
<rect x="431" y="174" width="1" height="34" fill="#32cd32"/>
<rect x="430" y="178" width="3" height="28" fill="#32cd32"/>
<rect x="435" y="178" width="1" height="36" fill="#ff0000"/>
<rect x="434" y="181" width="3" height="25" fill="#ff0000"/>
<rect x="435" y="182" width="1" height="23" fill="#ff4500"/>
<rect x="439" y="177" width="1" height="5" fill="#ff0000"/>
<rect x="438" y="179" width="3" height="3" fill="#ff0000"/>
<rect x="439" y="180" width="1" height="1" fill="#ff4500"/>
<rect x="443" y="155" width="1" height="31" fill="#ff0000"/>
<rect x="442" y="171" width="3" height="9" fill="#ff0000"/>
<rect x="443" y="172" width="1" height="7" fill="#ff4500"/>
<rect x="447" y="157" width="1" height="48" fill="#32cd32"/>
<rect x="446" y="171" width="3" height="28" fill="#32cd32"/>
<rect x="451" y="196" width="1" height="29" fill="#32cd32"/>
<rect x="450" y="198" width="3" height="21" fill="#32cd32"/>
<rect x="455" y="203" width="1" height="28" fill="#ff0000"/>
<rect x="454" y="213" width="3" height="6" fill="#ff0000"/>
<rect x="455" y="214" width="1" height="4" fill="#ff4500"/>
<rect x="459" y="204" width="1" height="41" fill="#32cd32"/>
<rect x="458" y="214" width="3" height="26" fill="#32cd32"/>
<rect x="463" y="239" width="1" height="5" fill="#ff0000"/>
<rect x="462" y="241" width="3" height="2" fill="#ff0000"/>
<rect x="467" y="215" width="1" height="33" fill="#32cd32"/>
<rect x="466" y="241" width="3" height="4" fill="#32cd32"/>
<rect x="471" y="238" width="1" height="19" fill="#32cd32"/>
<rect x="470" y="244" width="3" height="4" fill="#32cd32"/>
<rect x="475" y="244" width="1" height="26" fill="#32cd32"/>
<rect x="474" y="247" width="3" height="14" fill="#32cd32"/>
<rect x="479" y="255" width="1" height="23" fill="#32cd32"/>
<rect x="478" y="259" width="3" height="19" fill="#32cd32"/>
<rect x="483" y="274" width="1" height="42" fill="#32cd32"/>
<rect x="482" y="277" width="3" height="35" fill="#32cd32"/>
<rect x="487" y="294" width="1" height="18" fill="#ff0000"/>
<rect x="486" y="296" width="3" height="16" fill="#ff0000"/>
<rect x="487" y="297" width="1" height="14" fill="#ff4500"/>
<rect x="491" y="285" width="1" height="30" fill="#ff0000"/>
<rect x="490" y="294" width="3" height="3" fill="#ff0000"/>
<rect x="491" y="295" width="1" height="1" fill="#ff4500"/>
<rect x="495" y="279" width="1" height="67" fill="#32cd32"/>
<rect x="494" y="294" width="3" height="14" fill="#32cd32"/>
<rect x="499" y="277" width="1" height="49" fill="#32cd32"/>
<rect x="498" y="306" width="3" height="12" fill="#32cd32"/>
<rect x="503" y="310" width="1" height="23" fill="#32cd32"/>
<rect x="502" y="317" width="3" height="14" fill="#32cd32"/>
<rect x="507" y="328" width="1" height="58" fill="#32cd32"/>
<rect x="506" y="330" width="3" height="56" fill="#32cd32"/>
<rect x="511" y="371" width="1" height="13" fill="#ff0000"/>
<rect x="510" y="373" width="3" height="11" fill="#ff0000"/>
<rect x="511" y="374" width="1" height="9" fill="#ff4500"/>
<rect x="515" y="350" width="1" height="31" fill="#ff0000"/>
<rect x="514" y="354" width="3" height="20" fill="#ff0000"/>
<rect x="515" y="355" width="1" height="18" fill="#ff4500"/>
<rect x="519" y="308" width="1" height="52" fill="#ff0000"/>
<rect x="518" y="308" width="3" height="46" fill="#ff0000"/>
<rect x="519" y="309" width="1" height="44" fill="#ff4500"/>
<rect x="523" y="270" width="1" height="38" fill="#ff0000"/>
<rect x="522" y="280" width="3" height="28" fill="#ff0000"/>
<rect x="523" y="281" width="1" height="26" fill="#ff4500"/>
<rect x="527" y="269" width="1" height="31" fill="#32cd32"/>
<rect x="526" y="280" width="3" height="14" fill="#32cd32"/>
<rect x="531" y="271" width="1" height="31" fill="#ff0000"/>
<rect x="530" y="280" width="3" height="14" fill="#ff0000"/>
<rect x="531" y="281" width="1" height="12" fill="#ff4500"/>
<rect x="535" y="278" width="1" height="8" fill="#ff0000"/>
<rect x="534" y="281" width="3" height="4" fill="#ff0000"/>
<rect x="535" y="282" width="1" height="2" fill="#ff4500"/>
<rect x="539" y="275" width="1" height="41" fill="#32cd32"/>
<rect x="538" y="282" width="3" height="22" fill="#32cd32"/>
<rect x="543" y="300" width="1" height="29" fill="#32cd32"/>
<rect x="542" y="303" width="3" height="17" fill="#32cd32"/>
<rect x="547" y="274" width="1" height="54" fill="#ff0000"/>
<rect x="546" y="281" width="3" height="38" fill="#ff0000"/>
<rect x="547" y="282" width="1" height="36" fill="#ff4500"/>
<rect x="551" y="246" width="1" height="48" fill="#ff0000"/>
<rect x="550" y="276" width="3" height="5" fill="#ff0000"/>
<rect x="551" y="277" width="1" height="3" fill="#ff4500"/>
<rect x="555" y="272" width="1" height="30" fill="#32cd32"/>
<rect x="554" y="275" width="3" height="25" fill="#32cd32"/>
<rect x="559" y="304" width="1" height="13" fill="#32cd32"/>
<rect x="558" y="304" width="3" height="8" fill="#32cd32"/>
<rect x="563" y="305" width="1" height="29" fill="#32cd32"/>
<rect x="562" y="312" width="3" height="5" fill="#32cd32"/>
<rect x="567" y="287" width="1" height="37" fill="#ff0000"/>
<rect x="566" y="293" width="3" height="23" fill="#ff0000"/>
<rect x="567" y="294" width="1" height="21" fill="#ff4500"/>
<rect x="571" y="248" width="1" height="62" fill="#ff0000"/>
<rect x="570" y="253" width="3" height="41" fill="#ff0000"/>
<rect x="571" y="254" width="1" height="39" fill="#ff4500"/>
<rect x="575" y="229" width="1" height="35" fill="#ff0000"/>
<rect x="574" y="241" width="3" height="12" fill="#ff0000"/>
<rect x="575" y="242" width="1" height="10" fill="#ff4500"/>
<rect x="579" y="233" width="1" height="18" fill="#32cd32"/>
<rect x="578" y="241" width="3" height="3" fill="#32cd32"/>
<rect x="583" y="237" width="1" height="6" fill="#000000"/>
<rect x="582" y="242" width="3" height="1" fill="#000000"/>
<rect x="587" y="233" width="1" height="25" fill="#ff0000"/>
<rect x="586" y="239" width="3" height="4" fill="#ff0000"/>
<rect x="587" y="240" width="1" height="2" fill="#ff4500"/>
<rect x="591" y="221" width="1" height="29" fill="#32cd32"/>
<rect x="590" y="238" width="3" height="4" fill="#32cd32"/>
<rect x="595" y="216" width="1" height="37" fill="#ff0000"/>
<rect x="594" y="225" width="3" height="17" fill="#ff0000"/>
<rect x="595" y="226" width="1" height="15" fill="#ff4500"/>
<rect x="599" y="214" width="1" height="20" fill="#32cd32"/>
<rect x="598" y="224" width="3" height="7" fill="#32cd32"/>
<rect x="603" y="213" width="1" height="21" fill="#ff0000"/>
<rect x="602" y="217" width="3" height="14" fill="#ff0000"/>
<rect x="603" y="218" width="1" height="12" fill="#ff4500"/>
<rect x="607" y="214" width="1" height="6" fill="#ff0000"/>
<rect x="606" y="219" width="3" height="1" fill="#ff0000"/>
<rect x="611" y="213" width="1" height="59" fill="#32cd32"/>
<rect x="610" y="219" width="3" height="45" fill="#32cd32"/>
<rect x="615" y="230" width="1" height="40" fill="#ff0000"/>
<rect x="614" y="237" width="3" height="26" fill="#ff0000"/>
<rect x="615" y="238" width="1" height="24" fill="#ff4500"/>
<rect x="619" y="216" width="1" height="36" fill="#32cd32"/>
<rect x="618" y="236" width="3" height="12" fill="#32cd32"/>
<rect x="623" y="248" width="1" height="47" fill="#32cd32"/>
<rect x="622" y="248" width="3" height="37" fill="#32cd32"/>
<rect x="627" y="268" width="1" height="37" fill="#ff0000"/>
<rect x="626" y="270" width="3" height="15" fill="#ff0000"/>
<rect x="627" y="271" width="1" height="13" fill="#ff4500"/>
<rect x="631" y="270" width="1" height="9" fill="#ff0000"/>
<rect x="630" y="274" width="3" height="1" fill="#ff0000"/>
<rect x="635" y="258" width="1" height="35" fill="#ff0000"/>
<rect x="634" y="273" width="3" height="2" fill="#ff0000"/>
<rect x="639" y="252" width="1" height="37" fill="#ff0000"/>
<rect x="638" y="254" width="3" height="20" fill="#ff0000"/>
<rect x="639" y="255" width="1" height="18" fill="#ff4500"/>
<rect x="643" y="203" width="1" height="58" fill="#ff0000"/>
<rect x="642" y="210" width="3" height="45" fill="#ff0000"/>
<rect x="643" y="211" width="1" height="43" fill="#ff4500"/>
<rect x="647" y="190" width="1" height="26" fill="#ff0000"/>
<rect x="646" y="210" width="3" height="2" fill="#ff0000"/>
<rect x="651" y="203" width="1" height="59" fill="#32cd32"/>
<rect x="650" y="212" width="3" height="45" fill="#32cd32"/>
<rect x="655" y="250" width="1" height="7" fill="#ff0000"/>
<rect x="654" y="251" width="3" height="2" fill="#ff0000"/>
<rect x="659" y="242" width="1" height="22" fill="#32cd32"/>
<rect x="658" y="250" width="3" height="5" fill="#32cd32"/>
<rect x="663" y="243" width="1" height="37" fill="#32cd32"/>
<rect x="662" y="253" width="3" height="16" fill="#32cd32"/>
<rect x="667" y="237" width="1" height="39" fill="#ff0000"/>
<rect x="666" y="251" width="3" height="18" fill="#ff0000"/>
<rect x="667" y="252" width="1" height="16" fill="#ff4500"/>
<rect x="671" y="213" width="1" height="46" fill="#32cd32"/>
<rect x="670" y="250" width="3" height="1" fill="#32cd32"/>
<rect x="675" y="248" width="1" height="29" fill="#32cd32"/>
<rect x="674" y="250" width="3" height="26" fill="#32cd32"/>
<rect x="679" y="268" width="1" height="10" fill="#ff0000"/>
<rect x="678" y="268" width="3" height="9" fill="#ff0000"/>
<rect x="679" y="269" width="1" height="7" fill="#ff4500"/>
<rect x="683" y="268" width="1" height="61" fill="#32cd32"/>
<rect x="682" y="269" width="3" height="21" fill="#32cd32"/>
<rect x="687" y="275" width="1" height="35" fill="#ff0000"/>
<rect x="686" y="286" width="3" height="3" fill="#ff0000"/>
<rect x="687" y="287" width="1" height="1" fill="#ff4500"/>
<rect x="691" y="272" width="1" height="54" fill="#32cd32"/>
<rect x="690" y="286" width="3" height="24" fill="#32cd32"/>
<rect x="695" y="309" width="1" height="61" fill="#32cd32"/>
<rect x="694" y="309" width="3" height="54" fill="#32cd32"/>
<rect x="699" y="355" width="1" height="49" fill="#32cd32"/>
<rect x="698" y="362" width="3" height="34" fill="#32cd32"/>
<rect x="703" y="385" width="1" height="7" fill="#ff0000"/>
<rect x="702" y="386" width="3" height="2" fill="#ff0000"/>
<rect x="707" y="336" width="1" height="53" fill="#ff0000"/>
<rect x="706" y="342" width="3" height="45" fill="#ff0000"/>
<rect x="707" y="343" width="1" height="43" fill="#ff4500"/>
<rect x="711" y="298" width="1" height="66" fill="#ff0000"/>
<rect x="710" y="301" width="3" height="41" fill="#ff0000"/>
<rect x="711" y="302" width="1" height="39" fill="#ff4500"/>
<rect x="715" y="286" width="1" height="26" fill="#32cd32"/>
<rect x="714" y="301" width="3" height="9" fill="#32cd32"/>
<rect x="719" y="280" width="1" height="37" fill="#ff0000"/>
<rect x="718" y="296" width="3" height="14" fill="#ff0000"/>
<rect x="719" y="297" width="1" height="12" fill="#ff4500"/>
<rect x="723" y="290" width="1" height="63" fill="#32cd32"/>
<rect x="722" y="296" width="3" height="42" fill="#32cd32"/>
<rect x="727" y="331" width="1" height="6" fill="#32cd32"/>
<rect x="726" y="334" width="3" height="2" fill="#32cd32"/>
<rect x="731" y="302" width="1" height="42" fill="#ff0000"/>
<rect x="730" y="305" width="3" height="30" fill="#ff0000"/>
<rect x="731" y="306" width="1" height="28" fill="#ff4500"/>
<rect x="735" y="293" width="1" height="26" fill="#ff0000"/>
<rect x="734" y="294" width="3" height="12" fill="#ff0000"/>
<rect x="735" y="295" width="1" height="10" fill="#ff4500"/>
<rect x="739" y="264" width="1" height="33" fill="#ff0000"/>
<rect x="738" y="275" width="3" height="20" fill="#ff0000"/>
<rect x="739" y="276" width="1" height="18" fill="#ff4500"/>
<rect x="743" y="229" width="1" height="65" fill="#32cd32"/>
<rect x="742" y="275" width="3" height="10" fill="#32cd32"/>
<rect x="747" y="270" width="1" height="48" fill="#32cd32"/>
<rect x="746" y="284" width="3" height="24" fill="#32cd32"/>
<rect x="751" y="291" width="1" height="15" fill="#ff0000"/>
<rect x="750" y="295" width="3" height="9" fill="#ff0000"/>
<rect x="751" y="296" width="1" height="7" fill="#ff4500"/>
<rect x="755" y="293" width="1" height="38" fill="#32cd32"/>
<rect x="754" y="295" width="3" height="8" fill="#32cd32"/>
<rect x="759" y="287" width="1" height="35" fill="#ff0000"/>
<rect x="758" y="292" width="3" height="10" fill="#ff0000"/>
<rect x="759" y="293" width="1" height="8" fill="#ff4500"/>
<rect x="763" y="255" width="1" height="41" fill="#ff0000"/>
<rect x="762" y="265" width="3" height="28" fill="#ff0000"/>
<rect x="763" y="266" width="1" height="26" fill="#ff4500"/>
<rect x="767" y="250" width="1" height="43" fill="#32cd32"/>
<rect x="766" y="265" width="3" height="4" fill="#32cd32"/>
<rect x="771" y="243" width="1" height="40" fill="#32cd32"/>
<rect x="770" y="269" width="3" height="2" fill="#32cd32"/>
<rect x="775" y="275" width="1" height="7" fill="#32cd32"/>
<rect x="774" y="277" width="3" height="1" fill="#32cd32"/>
<rect x="779" y="247" width="1" height="35" fill="#ff0000"/>
<rect x="778" y="270" width="3" height="9" fill="#ff0000"/>
<rect x="779" y="271" width="1" height="7" fill="#ff4500"/>
<rect x="783" y="240" width="1" height="33" fill="#ff0000"/>
<rect x="782" y="244" width="3" height="27" fill="#ff0000"/>
<rect x="783" y="245" width="1" height="25" fill="#ff4500"/>
<rect x="787" y="209" width="1" height="41" fill="#ff0000"/>
<rect x="786" y="243" width="3" height="2" fill="#ff0000"/>
<rect x="791" y="242" width="1" height="84" fill="#32cd32"/>
<rect x="790" y="243" width="3" height="43" fill="#32cd32"/>
<rect x="795" y="237" width="1" height="60" fill="#ff0000"/>
<rect x="794" y="240" width="3" height="46" fill="#ff0000"/>
<rect x="795" y="241" width="1" height="44" fill="#ff4500"/>
<rect x="799" y="268" width="1" height="12" fill="#ff0000"/>
<rect x="798" y="270" width="3" height="4" fill="#ff0000"/>
<rect x="799" y="271" width="1" height="2" fill="#ff4500"/>
<rect x="803" y="219" width="1" height="60" fill="#ff0000"/>
<rect x="802" y="224" width="3" height="47" fill="#ff0000"/>
<rect x="803" y="225" width="1" height="45" fill="#ff4500"/>
<rect x="807" y="205" width="1" height="33" fill="#ff0000"/>
<rect x="806" y="223" width="3" height="2" fill="#ff0000"/>
<rect x="811" y="195" width="1" height="40" fill="#ff0000"/>
<rect x="810" y="203" width="3" height="21" fill="#ff0000"/>
<rect x="811" y="204" width="1" height="19" fill="#ff4500"/>
<rect x="815" y="170" width="1" height="45" fill="#ff0000"/>
<rect x="814" y="177" width="3" height="27" fill="#ff0000"/>
<rect x="815" y="178" width="1" height="25" fill="#ff4500"/>
<rect x="819" y="149" width="1" height="50" fill="#ff0000"/>
<rect x="818" y="155" width="3" height="23" fill="#ff0000"/>
<rect x="819" y="156" width="1" height="21" fill="#ff4500"/>
<rect x="823" y="140" width="1" height="26" fill="#ff0000"/>
<rect x="822" y="141" width="3" height="15" fill="#ff0000"/>
<rect x="823" y="142" width="1" height="13" fill="#ff4500"/>
<rect x="827" y="112" width="1" height="82" fill="#32cd32"/>
<rect x="826" y="141" width="3" height="41" fill="#32cd32"/>
<rect x="831" y="169" width="1" height="65" fill="#32cd32"/>
<rect x="830" y="181" width="3" height="39" fill="#32cd32"/>
<rect x="835" y="176" width="1" height="44" fill="#ff0000"/>
<rect x="834" y="189" width="3" height="31" fill="#ff0000"/>
<rect x="835" y="190" width="1" height="29" fill="#ff4500"/>
<rect x="839" y="157" width="1" height="50" fill="#ff0000"/>
<rect x="838" y="159" width="3" height="31" fill="#ff0000"/>
<rect x="839" y="160" width="1" height="29" fill="#ff4500"/>
<rect x="843" y="158" width="1" height="44" fill="#32cd32"/>
<rect x="842" y="158" width="3" height="44" fill="#32cd32"/>
<rect x="847" y="200" width="1" height="7" fill="#ff0000"/>
<rect x="846" y="200" width="3" height="6" fill="#ff0000"/>
<rect x="847" y="201" width="1" height="4" fill="#ff4500"/>
<rect x="851" y="200" width="1" height="70" fill="#32cd32"/>
<rect x="850" y="201" width="3" height="61" fill="#32cd32"/>
<rect x="855" y="244" width="1" height="39" fill="#32cd32"/>
<rect x="854" y="261" width="3" height="7" fill="#32cd32"/>
<rect x="859" y="202" width="1" height="71" fill="#ff0000"/>
<rect x="858" y="206" width="3" height="61" fill="#ff0000"/>
<rect x="859" y="207" width="1" height="59" fill="#ff4500"/>
<rect x="863" y="142" width="1" height="68" fill="#ff0000"/>
<rect x="862" y="149" width="3" height="57" fill="#ff0000"/>
<rect x="863" y="150" width="1" height="55" fill="#ff4500"/>
<rect x="867" y="126" width="1" height="37" fill="#ff0000"/>
<rect x="866" y="133" width="3" height="17" fill="#ff0000"/>
<rect x="867" y="134" width="1" height="15" fill="#ff4500"/>
<rect x="871" y="129" width="1" height="7" fill="#ff0000"/>
<rect x="870" y="131" width="3" height="3" fill="#ff0000"/>
<rect x="871" y="132" width="1" height="1" fill="#ff4500"/>
<rect x="875" y="122" width="1" height="32" fill="#32cd32"/>
<rect x="874" y="131" width="3" height="10" fill="#32cd32"/>
<rect x="879" y="90" width="1" height="63" fill="#ff0000"/>
<rect x="878" y="99" width="3" height="42" fill="#ff0000"/>
<rect x="879" y="100" width="1" height="40" fill="#ff4500"/>
<rect x="883" y="71" width="1" height="36" fill="#ff0000"/>
<rect x="882" y="76" width="3" height="24" fill="#ff0000"/>
<rect x="883" y="77" width="1" height="22" fill="#ff4500"/>
<rect x="887" y="59" width="1" height="38" fill="#ff0000"/>
<rect x="886" y="70" width="3" height="7" fill="#ff0000"/>
<rect x="887" y="71" width="1" height="5" fill="#ff4500"/>
<rect x="891" y="53" width="1" height="27" fill="#ff0000"/>
<rect x="890" y="63" width="3" height="8" fill="#ff0000"/>
<rect x="891" y="64" width="1" height="6" fill="#ff4500"/>
<rect x="895" y="63" width="1" height="5" fill="#ff0000"/>
<rect x="894" y="65" width="3" height="2" fill="#ff0000"/>
<rect x="899" y="51" width="1" height="46" fill="#32cd32"/>
<rect x="898" y="65" width="3" height="13" fill="#32cd32"/>
<rect x="903" y="61" width="1" height="43" fill="#ff0000"/>
<rect x="902" y="67" width="3" height="11" fill="#ff0000"/>
<rect x="903" y="68" width="1" height="9" fill="#ff4500"/>
<rect x="907" y="53" width="1" height="28" fill="#32cd32"/>
<rect x="906" y="67" width="3" height="8" fill="#32cd32"/>
<rect x="911" y="60" width="1" height="35" fill="#32cd32"/>
<rect x="910" y="75" width="3" height="7" fill="#32cd32"/>
<rect x="915" y="61" width="1" height="31" fill="#ff0000"/>
<rect x="914" y="78" width="3" height="4" fill="#ff0000"/>
<rect x="915" y="79" width="1" height="2" fill="#ff4500"/>
<rect x="919" y="80" width="1" height="6" fill="#32cd32"/>
<rect x="918" y="83" width="3" height="3" fill="#32cd32"/>
<rect x="923" y="72" width="1" height="15" fill="#ff0000"/>
<rect x="922" y="73" width="3" height="12" fill="#ff0000"/>
<rect x="923" y="74" width="1" height="10" fill="#ff4500"/>
</g>
<path d="M6,33 L13.4,33 L9.7,28.6 Z" fill="#000"/>
<text x="18.7" y="34" font-size="10" fill="#000" textLength="67.4" lengthAdjust="spacingAndGlyphs" stroke="#000" stroke-width="0.3">AUDUSD-,Daily</text>
<text x="93.2" y="34" font-size="10" fill="#000" textLength="32" lengthAdjust="spacingAndGlyphs" stroke="#000" stroke-width="0.3">0.74849</text>
<text x="129.4" y="34" font-size="10" fill="#000" textLength="32" lengthAdjust="spacingAndGlyphs" stroke="#000" stroke-width="0.3">0.75048</text>
<text x="165.6" y="34" font-size="10" fill="#000" textLength="32" lengthAdjust="spacingAndGlyphs" stroke="#000" stroke-width="0.3">0.74820</text>
<text x="201.7" y="34" font-size="10" fill="#000" textLength="32" lengthAdjust="spacingAndGlyphs" stroke="#000" stroke-width="0.3">0.75028</text>
<defs>
<linearGradient id="gpu" gradientUnits="userSpaceOnUse" x1="0" y1="42" x2="0" y2="99"><stop offset="0" stop-color="#5858ff"/><stop offset="0.33" stop-color="#3a3ae2"/><stop offset="0.68" stop-color="#2020c8"/><stop offset="1" stop-color="#0000a0"/></linearGradient>
<linearGradient id="gs" x1="0" y1="0" x2="0" y2="1"><stop offset="0" stop-color="#f0f0f0"/><stop offset="0.45" stop-color="#e4e4e4"/><stop offset="0.5" stop-color="#d8d8d8"/><stop offset="1" stop-color="#cdcdcd"/></linearGradient>
</defs>
<g shape-rendering="crispEdges">
<rect x="4" y="40" width="223" height="61" fill="#ffffff"/>
<rect x="3" y="43" width="1" height="1" fill="#ffffff"/>
<path d="M6.5,42.5H57.5V66.5H114.5V98.5H6.5Z" fill="url(#gpu)" stroke="#0000b0"/>
<path d="M224.5,42.5H173.5V66.5H117.5V98.5H224.5Z" fill="url(#gpu)" stroke="#0000b0"/>
<rect x="58" y="66" width="57" height="1" fill="#ffffff" opacity="0"/>
<rect x="60.5" y="42.5" width="110" height="21" fill="#fff" stroke="#adadad"/>
<rect x="81" y="43" width="1" height="20" fill="#adadad"/>
<rect x="149" y="43" width="1" height="20" fill="#adadad"/>
<rect x="62" y="44" width="18" height="18" fill="url(#gs)"/>
<rect x="151" y="44" width="18" height="18" fill="url(#gs)"/>
<rect x="10" y="65" width="44" height="1" fill="#000088"/>
<rect x="10" y="66" width="44" height="1" fill="#7878ff"/>
<rect x="177" y="65" width="44" height="1" fill="#000088"/>
<rect x="177" y="66" width="44" height="1" fill="#7878ff"/>
</g>
<path d="M67.5,51 L73,51 L70.25,54.3 Z" fill="#4a62c4"/>
<path d="M157,54.3 L162.5,54.3 L159.75,51 Z" fill="#4a62c4"/>
<text x="18.6" y="58" font-size="12.5" fill="#fff" textLength="25.4" lengthAdjust="spacingAndGlyphs">SELL</text>
<text x="186.8" y="58" font-size="12.5" fill="#fff" textLength="23.2" lengthAdjust="spacingAndGlyphs">BUY</text>
<text x="122" y="57" font-size="12.5" fill="#000" textLength="24" lengthAdjust="spacingAndGlyphs" stroke="#000" stroke-width="0.3">0.50</text>
<text x="26" y="93.5" font-size="11.2" fill="#fff" textLength="24" lengthAdjust="spacingAndGlyphs" font-weight="bold">0.75</text>
<text x="136" y="93.5" font-size="11.2" fill="#fff" textLength="24" lengthAdjust="spacingAndGlyphs" font-weight="bold">0.75</text>
<text x="53.4" y="95.1" font-size="36" fill="#fff" textLength="34.8" lengthAdjust="spacingAndGlyphs" stroke="url(#gpu)" stroke-width="0.45">02</text>
<text x="164" y="95.1" font-size="36" fill="#fff" textLength="35.2" lengthAdjust="spacingAndGlyphs" stroke="url(#gpu)" stroke-width="0.45">05</text>
<text x="93.5" y="77.7" font-size="11.2" fill="#fff" textLength="6.3" lengthAdjust="spacingAndGlyphs" stroke="#fff" stroke-width="0.35">8</text>
<text x="203.8" y="77.7" font-size="11.2" fill="#fff" textLength="6.8" lengthAdjust="spacingAndGlyphs" stroke="#fff" stroke-width="0.35">0</text>
<g shape-rendering="crispEdges">
<rect x="1166" y="47" width="2" height="1" fill="#000"/>
<rect x="1166" y="80" width="2" height="1" fill="#000"/>
<rect x="1166" y="113" width="2" height="1" fill="#000"/>
<rect x="1166" y="146" width="2" height="1" fill="#000"/>
<rect x="1166" y="179" width="2" height="1" fill="#000"/>
<rect x="1166" y="212" width="2" height="1" fill="#000"/>
<rect x="1166" y="245" width="2" height="1" fill="#000"/>
<rect x="1166" y="278" width="2" height="1" fill="#000"/>
<rect x="1166" y="311" width="2" height="1" fill="#000"/>
<rect x="1166" y="344" width="2" height="1" fill="#000"/>
<rect x="1166" y="377" width="2" height="1" fill="#000"/>
</g>
<text x="1171" y="51" font-size="10" fill="#000" textLength="33" lengthAdjust="spacingAndGlyphs" stroke="#000" stroke-width="0.3">0.75460</text>
<text x="1171" y="84" font-size="10" fill="#000" textLength="33" lengthAdjust="spacingAndGlyphs" stroke="#000" stroke-width="0.3">0.74920</text>
<text x="1171" y="117" font-size="10" fill="#000" textLength="33" lengthAdjust="spacingAndGlyphs" stroke="#000" stroke-width="0.3">0.74380</text>
<text x="1171" y="150" font-size="10" fill="#000" textLength="33" lengthAdjust="spacingAndGlyphs" stroke="#000" stroke-width="0.3">0.73855</text>
<text x="1171" y="183" font-size="10" fill="#000" textLength="33" lengthAdjust="spacingAndGlyphs" stroke="#000" stroke-width="0.3">0.73315</text>
<text x="1171" y="216" font-size="10" fill="#000" textLength="33" lengthAdjust="spacingAndGlyphs" stroke="#000" stroke-width="0.3">0.72775</text>
<text x="1171" y="249" font-size="10" fill="#000" textLength="33" lengthAdjust="spacingAndGlyphs" stroke="#000" stroke-width="0.3">0.72235</text>
<text x="1171" y="282" font-size="10" fill="#000" textLength="33" lengthAdjust="spacingAndGlyphs" stroke="#000" stroke-width="0.3">0.71710</text>
<text x="1171" y="315" font-size="10" fill="#000" textLength="33" lengthAdjust="spacingAndGlyphs" stroke="#000" stroke-width="0.3">0.71170</text>
<text x="1171" y="348" font-size="10" fill="#000" textLength="33" lengthAdjust="spacingAndGlyphs" stroke="#000" stroke-width="0.3">0.70630</text>
<text x="1171" y="381" font-size="10" fill="#000" textLength="33" lengthAdjust="spacingAndGlyphs" stroke="#000" stroke-width="0.3">0.70090</text>
<rect x="1167" y="38" width="38" height="11" fill="#ff0000" shape-rendering="crispEdges"/>
<text x="1171" y="47" font-size="10" fill="#fff" textLength="32.7" lengthAdjust="spacingAndGlyphs" stroke="#fff" stroke-width="0.3">0.75512</text>
<rect x="1167" y="68" width="38" height="11" fill="#000000" shape-rendering="crispEdges"/>
<text x="1171" y="77" font-size="10" fill="#fff" textLength="32.7" lengthAdjust="spacingAndGlyphs" stroke="#fff" stroke-width="0.3">0.75028</text>
<rect x="1167" y="131" width="38" height="11" fill="#ff0000" shape-rendering="crispEdges"/>
<text x="1171" y="140" font-size="10" fill="#fff" textLength="32.7" lengthAdjust="spacingAndGlyphs" stroke="#fff" stroke-width="0.3">0.74002</text>
<rect x="1167" y="223" width="38" height="11" fill="#00ff00" shape-rendering="crispEdges"/>
<text x="1171" y="232" font-size="10" fill="#fff" textLength="32.7" lengthAdjust="spacingAndGlyphs" stroke="#fff" stroke-width="0.3">0.72504</text>
<rect x="1167" y="315" width="38" height="11" fill="#0000cd" shape-rendering="crispEdges"/>
<text x="1171" y="324" font-size="10" fill="#fff" textLength="32.7" lengthAdjust="spacingAndGlyphs" stroke="#fff" stroke-width="0.3">0.71013</text>
<rect x="1167" y="403" width="38" height="11" fill="#0000ff" shape-rendering="crispEdges"/>
<text x="1171" y="412" font-size="10" fill="#fff" textLength="32.7" lengthAdjust="spacingAndGlyphs" stroke="#fff" stroke-width="0.3">0.69582</text>
<clipPath id="c2"><rect x="3" y="416" width="1162" height="71"/></clipPath>
<g clip-path="url(#c2)" shape-rendering="crispEdges">
<rect x="2" y="449" width="3" height="20" fill="#c0c0c0"/>
<rect x="6" y="449" width="3" height="20" fill="#c0c0c0"/>
<rect x="10" y="449" width="3" height="20" fill="#c0c0c0"/>
<rect x="14" y="449" width="3" height="20" fill="#c0c0c0"/>
<rect x="18" y="449" width="3" height="19" fill="#c0c0c0"/>
<rect x="22" y="449" width="3" height="19" fill="#c0c0c0"/>
<rect x="26" y="449" width="3" height="20" fill="#c0c0c0"/>
<rect x="30" y="449" width="3" height="22" fill="#c0c0c0"/>
<rect x="34" y="449" width="3" height="25" fill="#c0c0c0"/>
<rect x="38" y="449" width="3" height="26" fill="#c0c0c0"/>
<rect x="42" y="449" width="3" height="26" fill="#c0c0c0"/>
<rect x="46" y="449" width="3" height="26" fill="#c0c0c0"/>
<rect x="50" y="449" width="3" height="25" fill="#c0c0c0"/>
<rect x="54" y="449" width="3" height="23" fill="#c0c0c0"/>
<rect x="58" y="449" width="3" height="23" fill="#c0c0c0"/>
<rect x="62" y="449" width="3" height="22" fill="#c0c0c0"/>
<rect x="66" y="449" width="3" height="21" fill="#c0c0c0"/>
<rect x="70" y="449" width="3" height="19" fill="#c0c0c0"/>
<rect x="74" y="449" width="3" height="20" fill="#c0c0c0"/>
<rect x="78" y="449" width="3" height="19" fill="#c0c0c0"/>
<rect x="82" y="449" width="3" height="17" fill="#c0c0c0"/>
<rect x="86" y="449" width="3" height="16" fill="#c0c0c0"/>
<rect x="90" y="449" width="3" height="14" fill="#c0c0c0"/>
<rect x="94" y="449" width="3" height="13" fill="#c0c0c0"/>
<rect x="98" y="449" width="3" height="13" fill="#c0c0c0"/>
<rect x="102" y="449" width="3" height="14" fill="#c0c0c0"/>
<rect x="106" y="449" width="3" height="13" fill="#c0c0c0"/>
<rect x="110" y="449" width="3" height="13" fill="#c0c0c0"/>
<rect x="114" y="449" width="3" height="12" fill="#c0c0c0"/>
<rect x="118" y="449" width="3" height="11" fill="#c0c0c0"/>
<rect x="122" y="449" width="3" height="11" fill="#c0c0c0"/>
<rect x="126" y="449" width="3" height="10" fill="#c0c0c0"/>
<rect x="130" y="449" width="3" height="11" fill="#c0c0c0"/>
<rect x="134" y="449" width="3" height="13" fill="#c0c0c0"/>
<rect x="138" y="449" width="3" height="16" fill="#c0c0c0"/>
<rect x="142" y="449" width="3" height="20" fill="#c0c0c0"/>
<rect x="146" y="449" width="3" height="24" fill="#c0c0c0"/>
<rect x="150" y="449" width="3" height="27" fill="#c0c0c0"/>
<rect x="154" y="449" width="3" height="26" fill="#c0c0c0"/>
<rect x="158" y="449" width="3" height="24" fill="#c0c0c0"/>
<rect x="162" y="449" width="3" height="22" fill="#c0c0c0"/>
<rect x="166" y="449" width="3" height="21" fill="#c0c0c0"/>
<rect x="170" y="449" width="3" height="17" fill="#c0c0c0"/>
<rect x="174" y="449" width="3" height="13" fill="#c0c0c0"/>
<rect x="178" y="449" width="3" height="12" fill="#c0c0c0"/>
<rect x="182" y="449" width="3" height="10" fill="#c0c0c0"/>
<rect x="186" y="449" width="3" height="6" fill="#c0c0c0"/>
<rect x="190" y="449" width="3" height="3" fill="#c0c0c0"/>
<rect x="194" y="446" width="3" height="3" fill="#c0c0c0"/>
<rect x="198" y="442" width="3" height="7" fill="#c0c0c0"/>
<rect x="202" y="441" width="3" height="8" fill="#c0c0c0"/>
<rect x="206" y="440" width="3" height="9" fill="#c0c0c0"/>
<rect x="210" y="441" width="3" height="8" fill="#c0c0c0"/>
<rect x="214" y="441" width="3" height="8" fill="#c0c0c0"/>
<rect x="218" y="442" width="3" height="7" fill="#c0c0c0"/>
<rect x="222" y="442" width="3" height="7" fill="#c0c0c0"/>
<rect x="226" y="444" width="3" height="5" fill="#c0c0c0"/>
<rect x="230" y="445" width="3" height="4" fill="#c0c0c0"/>
<rect x="234" y="446" width="3" height="3" fill="#c0c0c0"/>
<rect x="238" y="448" width="3" height="1" fill="#c0c0c0"/>
<rect x="242" y="449" width="3" height="2" fill="#c0c0c0"/>
<rect x="246" y="449" width="3" height="5" fill="#c0c0c0"/>
<rect x="250" y="449" width="3" height="6" fill="#c0c0c0"/>
<rect x="254" y="449" width="3" height="9" fill="#c0c0c0"/>
<rect x="258" y="449" width="3" height="9" fill="#c0c0c0"/>
<rect x="262" y="449" width="3" height="8" fill="#c0c0c0"/>
<rect x="266" y="449" width="3" height="9" fill="#c0c0c0"/>
<rect x="270" y="449" width="3" height="9" fill="#c0c0c0"/>
<rect x="274" y="449" width="3" height="7" fill="#c0c0c0"/>
<rect x="278" y="449" width="3" height="9" fill="#c0c0c0"/>
<rect x="282" y="449" width="3" height="12" fill="#c0c0c0"/>
<rect x="286" y="449" width="3" height="13" fill="#c0c0c0"/>
<rect x="290" y="449" width="3" height="11" fill="#c0c0c0"/>
<rect x="294" y="449" width="3" height="11" fill="#c0c0c0"/>
<rect x="298" y="449" width="3" height="9" fill="#c0c0c0"/>
<rect x="302" y="449" width="3" height="7" fill="#c0c0c0"/>
<rect x="306" y="449" width="3" height="6" fill="#c0c0c0"/>
<rect x="310" y="449" width="3" height="3" fill="#c0c0c0"/>
<rect x="314" y="449" width="3" height="3" fill="#c0c0c0"/>
<rect x="318" y="449" width="3" height="3" fill="#c0c0c0"/>
<rect x="322" y="449" width="3" height="1" fill="#c0c0c0"/>
<rect x="326" y="447" width="3" height="2" fill="#c0c0c0"/>
<rect x="330" y="445" width="3" height="4" fill="#c0c0c0"/>
<rect x="334" y="442" width="3" height="7" fill="#c0c0c0"/>
<rect x="338" y="440" width="3" height="9" fill="#c0c0c0"/>
<rect x="342" y="437" width="3" height="12" fill="#c0c0c0"/>
<rect x="346" y="436" width="3" height="13" fill="#c0c0c0"/>
<rect x="350" y="434" width="3" height="15" fill="#c0c0c0"/>
<rect x="354" y="431" width="3" height="18" fill="#c0c0c0"/>
<rect x="358" y="430" width="3" height="19" fill="#c0c0c0"/>
<rect x="362" y="430" width="3" height="19" fill="#c0c0c0"/>
<rect x="366" y="430" width="3" height="19" fill="#c0c0c0"/>
<rect x="370" y="429" width="3" height="20" fill="#c0c0c0"/>
<rect x="374" y="428" width="3" height="21" fill="#c0c0c0"/>
<rect x="378" y="428" width="3" height="21" fill="#c0c0c0"/>
<rect x="382" y="427" width="3" height="22" fill="#c0c0c0"/>
<rect x="386" y="427" width="3" height="22" fill="#c0c0c0"/>
<rect x="390" y="427" width="3" height="22" fill="#c0c0c0"/>
<rect x="394" y="429" width="3" height="20" fill="#c0c0c0"/>
<rect x="398" y="431" width="3" height="18" fill="#c0c0c0"/>
<rect x="402" y="433" width="3" height="16" fill="#c0c0c0"/>
<rect x="406" y="436" width="3" height="13" fill="#c0c0c0"/>
<rect x="410" y="439" width="3" height="10" fill="#c0c0c0"/>
<rect x="414" y="442" width="3" height="7" fill="#c0c0c0"/>
<rect x="418" y="444" width="3" height="5" fill="#c0c0c0"/>
<rect x="422" y="446" width="3" height="3" fill="#c0c0c0"/>
<rect x="426" y="449" width="3" height="2" fill="#c0c0c0"/>
<rect x="430" y="449" width="3" height="6" fill="#c0c0c0"/>
<rect x="434" y="449" width="3" height="7" fill="#c0c0c0"/>
<rect x="438" y="449" width="3" height="9" fill="#c0c0c0"/>
<rect x="442" y="449" width="3" height="9" fill="#c0c0c0"/>
<rect x="446" y="449" width="3" height="11" fill="#c0c0c0"/>
<rect x="450" y="449" width="3" height="13" fill="#c0c0c0"/>
<rect x="454" y="449" width="3" height="15" fill="#c0c0c0"/>
<rect x="458" y="449" width="3" height="17" fill="#c0c0c0"/>
<rect x="462" y="449" width="3" height="19" fill="#c0c0c0"/>
<rect x="466" y="449" width="3" height="20" fill="#c0c0c0"/>
<rect x="470" y="449" width="3" height="21" fill="#c0c0c0"/>
<rect x="474" y="449" width="3" height="22" fill="#c0c0c0"/>
<rect x="478" y="449" width="3" height="24" fill="#c0c0c0"/>
<rect x="482" y="449" width="3" height="26" fill="#c0c0c0"/>
<rect x="486" y="449" width="3" height="28" fill="#c0c0c0"/>
<rect x="490" y="449" width="3" height="28" fill="#c0c0c0"/>
<rect x="494" y="449" width="3" height="29" fill="#c0c0c0"/>
<rect x="498" y="449" width="3" height="29" fill="#c0c0c0"/>
<rect x="502" y="449" width="3" height="30" fill="#c0c0c0"/>
<rect x="506" y="449" width="3" height="34" fill="#c0c0c0"/>
<rect x="510" y="449" width="3" height="35" fill="#c0c0c0"/>
<rect x="514" y="449" width="3" height="35" fill="#c0c0c0"/>
<rect x="518" y="449" width="3" height="31" fill="#c0c0c0"/>
<rect x="522" y="449" width="3" height="27" fill="#c0c0c0"/>
<rect x="526" y="449" width="3" height="25" fill="#c0c0c0"/>
<rect x="530" y="449" width="3" height="22" fill="#c0c0c0"/>
<rect x="534" y="449" width="3" height="20" fill="#c0c0c0"/>
<rect x="538" y="449" width="3" height="18" fill="#c0c0c0"/>
<rect x="542" y="449" width="3" height="17" fill="#c0c0c0"/>
<rect x="546" y="449" width="3" height="15" fill="#c0c0c0"/>
<rect x="550" y="449" width="3" height="13" fill="#c0c0c0"/>
<rect x="554" y="449" width="3" height="13" fill="#c0c0c0"/>
<rect x="558" y="449" width="3" height="13" fill="#c0c0c0"/>
<rect x="562" y="449" width="3" height="13" fill="#c0c0c0"/>
<rect x="566" y="449" width="3" height="11" fill="#c0c0c0"/>
<rect x="570" y="449" width="3" height="7" fill="#c0c0c0"/>
<rect x="574" y="449" width="3" height="5" fill="#c0c0c0"/>
<rect x="578" y="449" width="3" height="2" fill="#c0c0c0"/>
<rect x="582" y="449" width="3" height="1" fill="#c0c0c0"/>
<rect x="586" y="447" width="3" height="2" fill="#c0c0c0"/>
<rect x="590" y="445" width="3" height="4" fill="#c0c0c0"/>
<rect x="594" y="444" width="3" height="5" fill="#c0c0c0"/>
<rect x="598" y="443" width="3" height="6" fill="#c0c0c0"/>
<rect x="602" y="441" width="3" height="8" fill="#c0c0c0"/>
<rect x="606" y="440" width="3" height="9" fill="#c0c0c0"/>
<rect x="610" y="442" width="3" height="7" fill="#c0c0c0"/>
<rect x="614" y="442" width="3" height="7" fill="#c0c0c0"/>
<rect x="618" y="444" width="3" height="5" fill="#c0c0c0"/>
<rect x="622" y="445" width="3" height="4" fill="#c0c0c0"/>
<rect x="626" y="446" width="3" height="3" fill="#c0c0c0"/>
<rect x="630" y="448" width="3" height="1" fill="#c0c0c0"/>
<rect x="634" y="449" width="3" height="1" fill="#c0c0c0"/>
<rect x="638" y="448" width="3" height="1" fill="#c0c0c0"/>
<rect x="642" y="446" width="3" height="3" fill="#c0c0c0"/>
<rect x="646" y="444" width="3" height="5" fill="#c0c0c0"/>
<rect x="650" y="445" width="3" height="4" fill="#c0c0c0"/>
<rect x="654" y="445" width="3" height="4" fill="#c0c0c0"/>
<rect x="658" y="446" width="3" height="3" fill="#c0c0c0"/>
<rect x="662" y="446" width="3" height="3" fill="#c0c0c0"/>
<rect x="666" y="446" width="3" height="3" fill="#c0c0c0"/>
<rect x="670" y="446" width="3" height="3" fill="#c0c0c0"/>
<rect x="674" y="449" width="3" height="1" fill="#c0c0c0"/>
<rect x="678" y="449" width="3" height="2" fill="#c0c0c0"/>
<rect x="682" y="449" width="3" height="3" fill="#c0c0c0"/>
<rect x="686" y="449" width="3" height="4" fill="#c0c0c0"/>
<rect x="690" y="449" width="3" height="6" fill="#c0c0c0"/>
<rect x="694" y="449" width="3" height="11" fill="#c0c0c0"/>
<rect x="698" y="449" width="3" height="16" fill="#c0c0c0"/>
<rect x="702" y="449" width="3" height="19" fill="#c0c0c0"/>
<rect x="706" y="449" width="3" height="19" fill="#c0c0c0"/>
<rect x="710" y="449" width="3" height="17" fill="#c0c0c0"/>
<rect x="714" y="449" width="3" height="15" fill="#c0c0c0"/>
<rect x="718" y="449" width="3" height="13" fill="#c0c0c0"/>
<rect x="722" y="449" width="3" height="13" fill="#c0c0c0"/>
<rect x="726" y="449" width="3" height="13" fill="#c0c0c0"/>
<rect x="730" y="449" width="3" height="12" fill="#c0c0c0"/>
<rect x="734" y="449" width="3" height="9" fill="#c0c0c0"/>
<rect x="738" y="449" width="3" height="7" fill="#c0c0c0"/>
<rect x="742" y="449" width="3" height="5" fill="#c0c0c0"/>
<rect x="746" y="449" width="3" height="5" fill="#c0c0c0"/>
<rect x="750" y="449" width="3" height="4" fill="#c0c0c0"/>
<rect x="754" y="449" width="3" height="3" fill="#c0c0c0"/>
<rect x="758" y="449" width="3" height="3" fill="#c0c0c0"/>
<rect x="762" y="449" width="3" height="1" fill="#c0c0c0"/>
<rect x="766" y="448" width="3" height="1" fill="#c0c0c0"/>
<rect x="770" y="447" width="3" height="2" fill="#c0c0c0"/>
<rect x="774" y="446" width="3" height="3" fill="#c0c0c0"/>
<rect x="778" y="446" width="3" height="3" fill="#c0c0c0"/>
<rect x="782" y="444" width="3" height="5" fill="#c0c0c0"/>
<rect x="786" y="443" width="3" height="6" fill="#c0c0c0"/>
<rect x="790" y="444" width="3" height="5" fill="#c0c0c0"/>
<rect x="794" y="442" width="3" height="7" fill="#c0c0c0"/>
<rect x="798" y="443" width="3" height="6" fill="#c0c0c0"/>
<rect x="802" y="441" width="3" height="8" fill="#c0c0c0"/>
<rect x="806" y="439" width="3" height="10" fill="#c0c0c0"/>
<rect x="810" y="437" width="3" height="12" fill="#c0c0c0"/>
<rect x="814" y="434" width="3" height="15" fill="#c0c0c0"/>
<rect x="818" y="431" width="3" height="18" fill="#c0c0c0"/>
<rect x="822" y="428" width="3" height="21" fill="#c0c0c0"/>
<rect x="826" y="428" width="3" height="21" fill="#c0c0c0"/>
<rect x="830" y="430" width="3" height="19" fill="#c0c0c0"/>
<rect x="834" y="431" width="3" height="18" fill="#c0c0c0"/>
<rect x="838" y="430" width="3" height="19" fill="#c0c0c0"/>
<rect x="842" y="432" width="3" height="17" fill="#c0c0c0"/>
<rect x="846" y="433" width="3" height="16" fill="#c0c0c0"/>
<rect x="850" y="437" width="3" height="12" fill="#c0c0c0"/>
<rect x="854" y="441" width="3" height="8" fill="#c0c0c0"/>
<rect x="858" y="441" width="3" height="8" fill="#c0c0c0"/>
<rect x="862" y="438" width="3" height="11" fill="#c0c0c0"/>
<rect x="866" y="436" width="3" height="13" fill="#c0c0c0"/>
<rect x="870" y="433" width="3" height="16" fill="#c0c0c0"/>
<rect x="874" y="432" width="3" height="17" fill="#c0c0c0"/>
<rect x="878" y="429" width="3" height="20" fill="#c0c0c0"/>
<rect x="882" y="426" width="3" height="23" fill="#c0c0c0"/>
<rect x="886" y="423" width="3" height="26" fill="#c0c0c0"/>
<rect x="890" y="421" width="3" height="28" fill="#c0c0c0"/>
<rect x="894" y="420" width="3" height="29" fill="#c0c0c0"/>
<rect x="898" y="420" width="3" height="29" fill="#c0c0c0"/>
<rect x="902" y="420" width="3" height="29" fill="#c0c0c0"/>
<rect x="906" y="420" width="3" height="29" fill="#c0c0c0"/>
<rect x="910" y="421" width="3" height="28" fill="#c0c0c0"/>
<rect x="914" y="422" width="3" height="27" fill="#c0c0c0"/>
<rect x="918" y="424" width="3" height="25" fill="#c0c0c0"/>
<rect x="922" y="425" width="3" height="24" fill="#c0c0c0"/>
</g>
<path clip-path="url(#c2)" d="M912 421.5h11M908 422.5h4M906 423.5h2M903 424.5h3M899 425.5h4M897 426.5h2M896 427.5h1M387 428.5h16M894 428.5h2M383 429.5h4M403 429.5h5M893 429.5h1M379 430.5h4M408 430.5h3M892 430.5h1M376 431.5h3M411 431.5h4M841 431.5h14M890 431.5h2M372 432.5h4M415 432.5h2M837 432.5h4M855 432.5h2M888 432.5h2M369 433.5h3M417 433.5h2M835 433.5h2M857 433.5h3M886 433.5h2M366 434.5h3M419 434.5h2M832 434.5h3M860 434.5h2M884 434.5h2M364 435.5h2M421 435.5h2M828 435.5h4M862 435.5h12M878 435.5h6M362 436.5h2M423 436.5h1M825 436.5h3M874 436.5h4M360 437.5h2M424 437.5h1M823 437.5h2M358 438.5h2M425 438.5h1M821 438.5h2M357 439.5h1M426 439.5h2M818 439.5h3M355 440.5h2M428 440.5h1M815 440.5h3M354 441.5h1M429 441.5h1M812 441.5h3M222 442.5h16M352 442.5h2M430 442.5h2M808 442.5h4M218 443.5h4M238 443.5h2M350 443.5h2M432 443.5h2M615 443.5h20M805 443.5h3M216 444.5h2M240 444.5h3M348 444.5h2M434 444.5h2M610 444.5h5M635 444.5h2M801 444.5h4M214 445.5h2M243 445.5h4M346 445.5h2M436 445.5h1M607 445.5h3M637 445.5h5M792 445.5h9M212 446.5h2M247 446.5h2M343 446.5h3M437 446.5h2M605 446.5h2M642 446.5h36M788 446.5h4M211 447.5h1M249 447.5h2M341 447.5h2M439 447.5h2M603 447.5h2M678 447.5h4M785 447.5h3M210 448.5h1M251 448.5h2M339 448.5h2M441 448.5h2M601 448.5h2M682 448.5h9M781 448.5h4M208 449.5h2M253 449.5h5M336 449.5h3M443 449.5h1M599 449.5h2M691 449.5h2M776 449.5h5M206 450.5h2M258 450.5h4M333 450.5h3M444 450.5h2M596 450.5h3M693 450.5h2M771 450.5h5M205 451.5h1M262 451.5h2M330 451.5h3M446 451.5h1M594 451.5h2M695 451.5h2M769 451.5h2M204 452.5h1M264 452.5h2M328 452.5h2M447 452.5h2M591 452.5h3M697 452.5h2M767 452.5h2M202 453.5h2M266 453.5h2M326 453.5h2M449 453.5h2M589 453.5h2M699 453.5h1M765 453.5h2M201 454.5h1M268 454.5h4M322 454.5h4M451 454.5h2M587 454.5h2M700 454.5h2M761 454.5h4M200 455.5h1M272 455.5h3M318 455.5h4M453 455.5h2M584 455.5h3M702 455.5h2M757 455.5h4M199 456.5h1M275 456.5h2M315 456.5h3M455 456.5h3M582 456.5h2M704 456.5h2M753 456.5h4M197 457.5h2M277 457.5h4M311 457.5h4M458 457.5h2M580 457.5h2M706 457.5h2M750 457.5h3M196 458.5h1M281 458.5h5M299 458.5h12M460 458.5h2M578 458.5h2M708 458.5h2M747 458.5h3M195 459.5h1M286 459.5h13M462 459.5h2M576 459.5h2M710 459.5h3M744 459.5h3M126 460.5h12M193 460.5h2M464 460.5h2M573 460.5h3M713 460.5h4M741 460.5h3M119 461.5h7M138 461.5h9M192 461.5h1M466 461.5h2M571 461.5h2M717 461.5h4M739 461.5h2M112 462.5h7M147 462.5h2M191 462.5h1M468 462.5h3M568 462.5h3M721 462.5h4M737 462.5h2M105 463.5h7M149 463.5h2M189 463.5h2M471 463.5h4M565 463.5h3M725 463.5h12M99 464.5h6M151 464.5h4M188 464.5h1M475 464.5h2M563 464.5h2M94 465.5h5M155 465.5h3M186 465.5h2M477 465.5h2M560 465.5h3M91 466.5h3M158 466.5h2M184 466.5h2M479 466.5h2M557 466.5h3M89 467.5h2M160 467.5h3M182 467.5h2M481 467.5h2M554 467.5h3M17 468.5h9M87 468.5h2M163 468.5h2M179 468.5h3M483 468.5h2M552 468.5h2M3 469.5h14M26 469.5h12M79 469.5h8M165 469.5h4M177 469.5h2M485 469.5h3M550 469.5h2M38 470.5h8M75 470.5h4M169 470.5h8M488 470.5h3M548 470.5h2M46 471.5h9M73 471.5h2M491 471.5h4M547 471.5h1M55 472.5h18M495 472.5h3M545 472.5h2M498 473.5h3M544 473.5h1M501 474.5h3M542 474.5h2M504 475.5h2M540 475.5h2M506 476.5h2M538 476.5h2M508 477.5h3M535 477.5h3M511 478.5h4M530 478.5h5M515 479.5h15" fill="none" stroke="#ff0000" stroke-width="1" shape-rendering="crispEdges"/>
<text x="7.5" y="428" font-size="10" fill="#000" textLength="147.3" lengthAdjust="spacingAndGlyphs" stroke="#000" stroke-width="0.3">MACD(12,26,9) 0.006011 0.006830</text>
<g shape-rendering="crispEdges">
<rect x="1166" y="417" width="1" height="1" fill="#000"/>
<rect x="1166" y="449" width="1" height="1" fill="#000"/>
<rect x="1166" y="486" width="1" height="1" fill="#000"/>
<rect x="1166" y="491" width="1" height="1" fill="#000"/>
<rect x="1166" y="562" width="1" height="1" fill="#000"/>
</g>
<text x="1169" y="426" font-size="10" fill="#000" textLength="39.5" lengthAdjust="spacingAndGlyphs" stroke="#000" stroke-width="0.3">0.008061</text>
<text x="1169" y="453" font-size="10" fill="#000" textLength="17.9" lengthAdjust="spacingAndGlyphs" stroke="#000" stroke-width="0.3">0.00</text>
<text x="1169" y="484" font-size="10" fill="#000" textLength="37.3" lengthAdjust="spacingAndGlyphs" stroke="#000" stroke-width="0.3">-0.00928</text>
<clipPath id="c3"><rect x="3" y="490" width="1162" height="73"/></clipPath>
<g shape-rendering="crispEdges">
<line x1="4" y1="512.5" x2="1165" y2="512.5" stroke="#c0c0c0" stroke-width="1" stroke-dasharray="3,3"/>
<line x1="4" y1="541.5" x2="1165" y2="541.5" stroke="#c0c0c0" stroke-width="1" stroke-dasharray="3,3"/>
</g>
<path clip-path="url(#c3)" d="M354 510.5h2M352 511.5h2M356 511.5h1M351 512.5h1M356 512.5h1M821 512.5h3M350 513.5h1M357 513.5h1M374 513.5h2M382 513.5h3M818 513.5h3M824 513.5h1M890 513.5h4M349 514.5h1M357 514.5h1M372 514.5h2M376 514.5h2M380 514.5h2M385 514.5h4M816 514.5h2M824 514.5h1M882 514.5h8M894 514.5h3M339 515.5h6M349 515.5h1M358 515.5h1M369 515.5h3M378 515.5h2M389 515.5h7M815 515.5h1M825 515.5h1M880 515.5h2M897 515.5h2M901 515.5h4M195 516.5h3M334 516.5h5M345 516.5h2M348 516.5h1M358 516.5h1M366 516.5h3M396 516.5h1M813 516.5h2M826 516.5h1M879 516.5h1M899 516.5h2M905 516.5h4M194 517.5h1M198 517.5h4M331 517.5h3M347 517.5h1M359 517.5h7M396 517.5h1M812 517.5h1M826 517.5h1M877 517.5h2M909 517.5h9M921 517.5h2M192 518.5h2M202 518.5h2M330 518.5h1M397 518.5h1M602 518.5h6M810 518.5h2M827 518.5h1M839 518.5h1M864 518.5h10M876 518.5h1M918 518.5h3M191 519.5h1M204 519.5h1M329 519.5h1M397 519.5h1M594 519.5h8M607 519.5h1M643 519.5h5M783 519.5h5M808 519.5h2M828 519.5h1M837 519.5h2M840 519.5h1M862 519.5h2M874 519.5h2M190 520.5h1M205 520.5h1M329 520.5h1M398 520.5h1M592 520.5h2M608 520.5h1M642 520.5h1M648 520.5h1M782 520.5h1M788 520.5h1M803 520.5h5M828 520.5h1M836 520.5h1M840 520.5h1M861 520.5h1M188 521.5h2M205 521.5h1M323 521.5h2M328 521.5h1M398 521.5h1M573 521.5h19M608 521.5h1M642 521.5h1M648 521.5h1M781 521.5h1M788 521.5h1M795 521.5h1M802 521.5h1M829 521.5h1M835 521.5h1M841 521.5h1M861 521.5h1M187 522.5h1M206 522.5h1M322 522.5h1M325 522.5h3M399 522.5h1M571 522.5h2M609 522.5h1M641 522.5h1M649 522.5h1M763 522.5h2M780 522.5h1M789 522.5h1M794 522.5h1M796 522.5h1M801 522.5h1M830 522.5h1M833 522.5h2M842 522.5h1M860 522.5h1M185 523.5h2M207 523.5h2M312 523.5h5M321 523.5h1M399 523.5h1M403 523.5h1M570 523.5h1M609 523.5h1M615 523.5h2M641 523.5h1M649 523.5h1M740 523.5h1M762 523.5h1M765 523.5h8M777 523.5h3M789 523.5h1M794 523.5h1M797 523.5h1M801 523.5h1M830 523.5h1M832 523.5h1M842 523.5h1M859 523.5h1M184 524.5h1M209 524.5h2M311 524.5h1M317 524.5h1M321 524.5h1M400 524.5h3M404 524.5h1M570 524.5h1M609 524.5h1M614 524.5h1M617 524.5h3M640 524.5h1M650 524.5h1M738 524.5h2M741 524.5h2M761 524.5h1M773 524.5h4M790 524.5h1M793 524.5h1M798 524.5h1M800 524.5h1M831 524.5h1M843 524.5h5M859 524.5h1M173 525.5h3M182 525.5h2M211 525.5h17M309 525.5h2M318 525.5h1M320 525.5h1M400 525.5h1M404 525.5h1M569 525.5h1M610 525.5h1M613 525.5h1M620 525.5h1M640 525.5h1M650 525.5h1M737 525.5h1M743 525.5h1M760 525.5h1M790 525.5h1M792 525.5h1M799 525.5h1M848 525.5h1M858 525.5h1M171 526.5h2M176 526.5h2M180 526.5h2M228 526.5h1M296 526.5h10M308 526.5h1M319 526.5h1M405 526.5h1M568 526.5h1M610 526.5h1M613 526.5h1M620 526.5h1M639 526.5h1M651 526.5h1M653 526.5h4M667 526.5h5M734 526.5h3M744 526.5h1M750 526.5h3M757 526.5h3M791 526.5h2M848 526.5h1M858 526.5h1M170 527.5h1M178 527.5h2M229 527.5h1M235 527.5h1M293 527.5h3M306 527.5h2M406 527.5h1M547 527.5h5M568 527.5h1M611 527.5h2M621 527.5h1M637 527.5h2M651 527.5h2M657 527.5h3M665 527.5h2M672 527.5h1M718 527.5h2M731 527.5h3M745 527.5h2M748 527.5h2M753 527.5h4M791 527.5h1M849 527.5h1M857 527.5h1M94 528.5h1M123 528.5h2M170 528.5h1M229 528.5h1M233 528.5h2M236 528.5h1M263 528.5h1M291 528.5h2M406 528.5h1M418 528.5h2M530 528.5h4M546 528.5h1M552 528.5h1M567 528.5h1M611 528.5h1M621 528.5h1M627 528.5h2M636 528.5h1M660 528.5h2M664 528.5h1M673 528.5h1M711 528.5h2M716 528.5h2M720 528.5h1M730 528.5h1M747 528.5h1M850 528.5h1M857 528.5h1M87 529.5h2M92 529.5h2M95 529.5h1M116 529.5h1M122 529.5h1M125 529.5h2M162 529.5h2M169 529.5h1M230 529.5h1M232 529.5h1M237 529.5h1M263 529.5h2M274 529.5h2M290 529.5h1M407 529.5h2M416 529.5h2M420 529.5h1M523 529.5h2M528 529.5h2M534 529.5h3M546 529.5h1M553 529.5h2M566 529.5h1M622 529.5h1M625 529.5h2M629 529.5h7M662 529.5h2M674 529.5h1M677 529.5h3M710 529.5h1M713 529.5h3M721 529.5h1M729 529.5h1M850 529.5h1M856 529.5h1M86 530.5h1M89 530.5h3M96 530.5h1M115 530.5h1M117 530.5h1M121 530.5h1M127 530.5h2M160 530.5h2M164 530.5h1M168 530.5h1M231 530.5h1M237 530.5h1M262 530.5h1M265 530.5h1M272 530.5h2M276 530.5h2M289 530.5h1M409 530.5h7M421 530.5h1M522 530.5h1M525 530.5h3M537 530.5h2M545 530.5h1M555 530.5h2M564 530.5h2M622 530.5h1M624 530.5h1M675 530.5h2M680 530.5h1M710 530.5h1M721 530.5h1M728 530.5h1M851 530.5h2M856 530.5h1M85 531.5h1M97 531.5h1M113 531.5h2M118 531.5h1M120 531.5h1M129 531.5h2M159 531.5h1M165 531.5h2M168 531.5h1M238 531.5h1M262 531.5h1M266 531.5h1M269 531.5h3M278 531.5h1M288 531.5h1M422 531.5h1M521 531.5h1M539 531.5h2M544 531.5h1M557 531.5h4M563 531.5h1M623 531.5h1M681 531.5h2M685 531.5h3M709 531.5h1M722 531.5h1M725 531.5h3M853 531.5h3M19 532.5h1M70 532.5h2M84 532.5h1M98 532.5h1M112 532.5h1M119 532.5h1M131 532.5h1M158 532.5h1M167 532.5h1M239 532.5h2M261 532.5h1M267 532.5h2M279 532.5h1M287 532.5h1M423 532.5h1M441 532.5h3M520 532.5h1M541 532.5h2M544 532.5h1M561 532.5h2M683 532.5h2M688 532.5h1M708 532.5h1M723 532.5h2M3 533.5h7M18 533.5h1M20 533.5h1M68 533.5h2M72 533.5h1M83 533.5h1M99 533.5h2M110 533.5h2M132 533.5h1M157 533.5h1M241 533.5h4M261 533.5h1M280 533.5h1M286 533.5h1M424 533.5h1M435 533.5h6M444 533.5h1M519 533.5h1M543 533.5h1M689 533.5h1M708 533.5h1M10 534.5h2M17 534.5h1M21 534.5h2M57 534.5h3M66 534.5h2M73 534.5h1M82 534.5h1M101 534.5h4M108 534.5h2M132 534.5h1M157 534.5h1M245 534.5h7M260 534.5h1M281 534.5h1M285 534.5h1M425 534.5h2M434 534.5h1M445 534.5h2M519 534.5h1M690 534.5h1M707 534.5h1M12 535.5h1M17 535.5h1M23 535.5h1M55 535.5h2M60 535.5h2M64 535.5h2M73 535.5h1M80 535.5h2M105 535.5h3M133 535.5h1M156 535.5h1M252 535.5h1M260 535.5h1M281 535.5h1M285 535.5h1M427 535.5h2M433 535.5h1M447 535.5h1M518 535.5h1M691 535.5h1M707 535.5h1M13 536.5h2M16 536.5h1M24 536.5h3M48 536.5h2M53 536.5h2M62 536.5h2M74 536.5h1M77 536.5h3M134 536.5h1M155 536.5h1M253 536.5h2M257 536.5h3M282 536.5h1M284 536.5h1M429 536.5h1M433 536.5h1M448 536.5h1M454 536.5h2M518 536.5h1M692 536.5h1M706 536.5h1M15 537.5h1M27 537.5h3M46 537.5h2M50 537.5h3M75 537.5h2M134 537.5h1M155 537.5h1M255 537.5h2M283 537.5h1M430 537.5h1M432 537.5h1M449 537.5h2M452 537.5h2M456 537.5h1M517 537.5h1M693 537.5h1M706 537.5h1M30 538.5h2M44 538.5h2M135 538.5h2M154 538.5h1M431 538.5h1M451 538.5h1M457 538.5h2M517 538.5h1M693 538.5h1M705 538.5h1M32 539.5h2M42 539.5h2M137 539.5h2M154 539.5h1M459 539.5h2M516 539.5h1M694 539.5h1M705 539.5h1M34 540.5h3M40 540.5h2M139 540.5h1M153 540.5h1M461 540.5h12M516 540.5h1M695 540.5h1M704 540.5h1M37 541.5h3M140 541.5h1M153 541.5h1M473 541.5h2M515 541.5h1M696 541.5h1M704 541.5h1M141 542.5h2M152 542.5h1M475 542.5h2M487 542.5h7M515 542.5h1M697 542.5h2M701 542.5h3M143 543.5h1M152 543.5h1M477 543.5h3M486 543.5h1M494 543.5h4M514 543.5h1M699 543.5h2M144 544.5h2M149 544.5h3M480 544.5h1M485 544.5h1M498 544.5h4M513 544.5h1M146 545.5h3M481 545.5h2M484 545.5h1M502 545.5h2M512 545.5h1M483 546.5h1M504 546.5h1M511 546.5h1M505 547.5h1M509 547.5h2M506 548.5h1M508 548.5h1M507 549.5h1" fill="none" stroke="#1e90ff" stroke-width="1" shape-rendering="crispEdges"/>
<text x="7.5" y="502" font-size="10" fill="#000" textLength="67.5" lengthAdjust="spacingAndGlyphs" stroke="#000" stroke-width="0.3">RSI(14) 63.2039</text>
<text x="1169.6" y="500" font-size="10" fill="#000" textLength="14.6" lengthAdjust="spacingAndGlyphs" stroke="#000" stroke-width="0.3">100</text>
<text x="1168.1" y="516" font-size="10" fill="#000" textLength="10" lengthAdjust="spacingAndGlyphs" stroke="#000" stroke-width="0.3">70</text>
<text x="1168.1" y="545" font-size="10" fill="#000" textLength="10" lengthAdjust="spacingAndGlyphs" stroke="#000" stroke-width="0.3">30</text>
<text x="1169" y="560" font-size="10" fill="#000" textLength="5.2" lengthAdjust="spacingAndGlyphs" stroke="#000" stroke-width="0.3">0</text>
<g shape-rendering="crispEdges">
<rect x="3" y="564" width="1" height="3" fill="#000"/>
<rect x="67" y="564" width="1" height="3" fill="#000"/>
<rect x="131" y="564" width="1" height="3" fill="#000"/>
<rect x="195" y="564" width="1" height="3" fill="#000"/>
<rect x="259" y="564" width="1" height="3" fill="#000"/>
<rect x="323" y="564" width="1" height="3" fill="#000"/>
<rect x="387" y="564" width="1" height="3" fill="#000"/>
<rect x="451" y="564" width="1" height="3" fill="#000"/>
<rect x="515" y="564" width="1" height="3" fill="#000"/>
<rect x="579" y="564" width="1" height="3" fill="#000"/>
<rect x="643" y="564" width="1" height="3" fill="#000"/>
<rect x="707" y="564" width="1" height="3" fill="#000"/>
<rect x="771" y="564" width="1" height="3" fill="#000"/>
<rect x="835" y="564" width="1" height="3" fill="#000"/>
<rect x="899" y="564" width="1" height="3" fill="#000"/>
</g>
<text x="2.1" y="576" font-size="10" fill="#000" textLength="41.4" lengthAdjust="spacingAndGlyphs" stroke="#000" stroke-width="0.3">9 Jul 2021</text>
<text x="66.1" y="576" font-size="10" fill="#000" textLength="46" lengthAdjust="spacingAndGlyphs" stroke="#000" stroke-width="0.3">28 Jul 2021</text>
<text x="130.1" y="576" font-size="10" fill="#000" textLength="52" lengthAdjust="spacingAndGlyphs" stroke="#000" stroke-width="0.3">16 Aug 2021</text>
<text x="194.1" y="576" font-size="10" fill="#000" textLength="46" lengthAdjust="spacingAndGlyphs" stroke="#000" stroke-width="0.3">3 Sep 2021</text>
<text x="258.1" y="576" font-size="10" fill="#000" textLength="51.2" lengthAdjust="spacingAndGlyphs" stroke="#000" stroke-width="0.3">22 Sep 2021</text>
<text x="322.1" y="576" font-size="10" fill="#000" textLength="49.5" lengthAdjust="spacingAndGlyphs" stroke="#000" stroke-width="0.3">11 Oct 2021</text>
<text x="386.1" y="576" font-size="10" fill="#000" textLength="50" lengthAdjust="spacingAndGlyphs" stroke="#000" stroke-width="0.3">29 Oct 2021</text>
<text x="450.1" y="576" font-size="10" fill="#000" textLength="52.5" lengthAdjust="spacingAndGlyphs" stroke="#000" stroke-width="0.3">17 Nov 2021</text>
<text x="514.1" y="576" font-size="10" fill="#000" textLength="45.8" lengthAdjust="spacingAndGlyphs" stroke="#000" stroke-width="0.3">6 Dec 2021</text>
<text x="578.1" y="576" font-size="10" fill="#000" textLength="50.5" lengthAdjust="spacingAndGlyphs" stroke="#000" stroke-width="0.3">24 Dec 2021</text>
<text x="642.1" y="576" font-size="10" fill="#000" textLength="49" lengthAdjust="spacingAndGlyphs" stroke="#000" stroke-width="0.3">12 Jan 2022</text>
<text x="706.1" y="576" font-size="10" fill="#000" textLength="49.3" lengthAdjust="spacingAndGlyphs" stroke="#000" stroke-width="0.3">31 Jan 2022</text>
<text x="770.1" y="576" font-size="10" fill="#000" textLength="50.7" lengthAdjust="spacingAndGlyphs" stroke="#000" stroke-width="0.3">18 Feb 2022</text>
<text x="834.1" y="576" font-size="10" fill="#000" textLength="46.2" lengthAdjust="spacingAndGlyphs" stroke="#000" stroke-width="0.3">9 Mar 2022</text>
<text x="898.1" y="576" font-size="10" fill="#000" textLength="51.4" lengthAdjust="spacingAndGlyphs" stroke="#000" stroke-width="0.3">28 Mar 2022</text>
<g shape-rendering="crispEdges">
<rect x="0" y="584" width="1205" height="1" fill="#f0f0f0"/>
<rect x="0" y="586" width="1205" height="1" fill="#000"/>
<rect x="0" y="587" width="1205" height="19" fill="#f0f0f0"/>
<rect x="0" y="606" width="1205" height="1" fill="#ffffff"/>
<rect x="0" y="607" width="1205" height="3" fill="#f0f0f0"/>
<rect x="0" y="610" width="1205" height="1" fill="#a0a0a0"/>
<rect x="0" y="611" width="1205" height="2" fill="#ffffff"/>
<rect x="212" y="586" width="108" height="19" fill="#000"/>
<rect x="213" y="586" width="106" height="18" fill="#fff"/>
<rect x="104" y="589" width="1" height="14" fill="#606060"/>
<rect x="428" y="589" width="1" height="14" fill="#606060"/>
<rect x="536" y="589" width="1" height="14" fill="#606060"/>
<rect x="648" y="589" width="1" height="14" fill="#606060"/>
<rect x="756" y="589" width="1" height="14" fill="#606060"/>
<rect x="836" y="589" width="1" height="14" fill="#606060"/>
<rect x="936" y="589" width="1" height="14" fill="#606060"/>
<rect x="1020" y="589" width="1" height="14" fill="#606060"/>
<rect x="1100" y="589" width="1" height="14" fill="#606060"/>
</g>
<text x="15.4" y="600.6" font-size="12.4" fill="#6c6c6c" textLength="77.5" lengthAdjust="spacingAndGlyphs" stroke="#6c6c6c" stroke-width="0.05">USDX,Weekly</text>
<text x="115" y="600.6" font-size="12.4" fill="#6c6c6c" textLength="84.7" lengthAdjust="spacingAndGlyphs" stroke="#6c6c6c" stroke-width="0.05">EURUSD-,Daily</text>
<text x="332.4" y="600.6" font-size="12.4" fill="#6c6c6c" textLength="83.4" lengthAdjust="spacingAndGlyphs" stroke="#6c6c6c" stroke-width="0.05">USDCHF-,Daily</text>
<text x="439.4" y="600.6" font-size="12.4" fill="#6c6c6c" textLength="85.4" lengthAdjust="spacingAndGlyphs" stroke="#6c6c6c" stroke-width="0.05">USDCAD-,Daily</text>
<text x="548.2" y="600.6" font-size="12.4" fill="#6c6c6c" textLength="87.4" lengthAdjust="spacingAndGlyphs" stroke="#6c6c6c" stroke-width="0.05">USDCNH-,Daily</text>
<text x="659.2" y="600.6" font-size="12.4" fill="#6c6c6c" textLength="85.2" lengthAdjust="spacingAndGlyphs" stroke="#6c6c6c" stroke-width="0.05">XAUUSD-,Daily</text>
<text x="767.3" y="600.6" font-size="12.4" fill="#6c6c6c" textLength="56.7" lengthAdjust="spacingAndGlyphs" stroke="#6c6c6c" stroke-width="0.05">UKOil-,H4</text>
<text x="847.2" y="600.6" font-size="12.4" fill="#6c6c6c" textLength="77.6" lengthAdjust="spacingAndGlyphs" stroke="#6c6c6c" stroke-width="0.05">DJ30-,Weekly</text>
<text x="947.3" y="600.6" font-size="12.4" fill="#6c6c6c" textLength="61.1" lengthAdjust="spacingAndGlyphs" stroke="#6c6c6c" stroke-width="0.05">UK100-,H1</text>
<text x="1032.4" y="600.6" font-size="12.4" fill="#6c6c6c" textLength="54.9" lengthAdjust="spacingAndGlyphs" stroke="#6c6c6c" stroke-width="0.05">USOil-,H1</text>
<text x="1110.6" y="600.6" font-size="12.4" fill="#6c6c6c" textLength="54" lengthAdjust="spacingAndGlyphs" stroke="#6c6c6c" stroke-width="0.05">HK50-,H1</text>
<text x="222.3" y="600.6" font-size="12.4" fill="#000" textLength="86.3" lengthAdjust="spacingAndGlyphs" stroke="#000" stroke-width="0.1">AUDUSD-,Daily</text>
<path d="M1184.6,592.4 L1184.6,598 L1181,595.2 Z" fill="#8c8c8c"/>
<path d="M1200.2,592.4 L1200.2,598 L1203.8,595.2 Z" fill="#8c8c8c"/>
</svg>
</body></html>
